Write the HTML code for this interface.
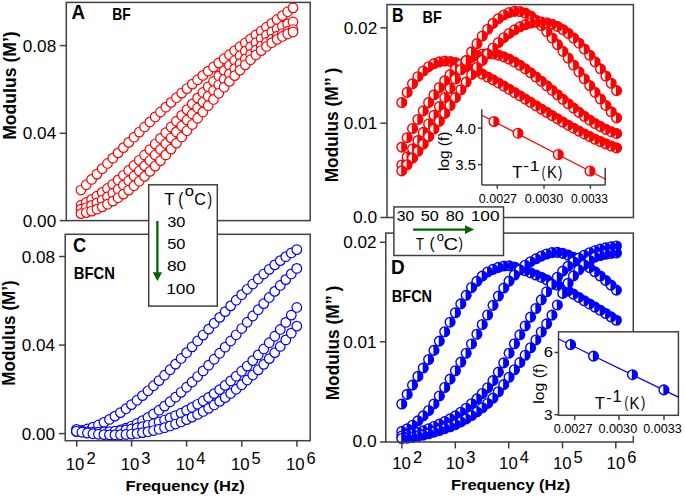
<!DOCTYPE html><html><head><meta charset="utf-8"><style>html,body{margin:0;padding:0;background:#fff;width:685px;height:498px;overflow:hidden}</style></head><body><svg width="685" height="498" viewBox="0 0 685 498" style="position:absolute;left:0;top:0;font-family:'Liberation Sans', sans-serif">
<rect width="685" height="498" fill="#fff"/>
<circle cx="81.00" cy="190.05" r="4.8" fill="#fff" stroke="#ff0000" stroke-width="1.2"/>
<circle cx="86.30" cy="184.74" r="4.8" fill="#fff" stroke="#ff0000" stroke-width="1.2"/>
<circle cx="91.60" cy="179.41" r="4.8" fill="#fff" stroke="#ff0000" stroke-width="1.2"/>
<circle cx="96.90" cy="174.09" r="4.8" fill="#fff" stroke="#ff0000" stroke-width="1.2"/>
<circle cx="102.20" cy="168.77" r="4.8" fill="#fff" stroke="#ff0000" stroke-width="1.2"/>
<circle cx="107.50" cy="163.46" r="4.8" fill="#fff" stroke="#ff0000" stroke-width="1.2"/>
<circle cx="112.80" cy="158.16" r="4.8" fill="#fff" stroke="#ff0000" stroke-width="1.2"/>
<circle cx="118.10" cy="152.88" r="4.8" fill="#fff" stroke="#ff0000" stroke-width="1.2"/>
<circle cx="123.40" cy="147.63" r="4.8" fill="#fff" stroke="#ff0000" stroke-width="1.2"/>
<circle cx="128.70" cy="142.40" r="4.8" fill="#fff" stroke="#ff0000" stroke-width="1.2"/>
<circle cx="134.00" cy="137.22" r="4.8" fill="#fff" stroke="#ff0000" stroke-width="1.2"/>
<circle cx="139.30" cy="132.07" r="4.8" fill="#fff" stroke="#ff0000" stroke-width="1.2"/>
<circle cx="144.60" cy="126.97" r="4.8" fill="#fff" stroke="#ff0000" stroke-width="1.2"/>
<circle cx="149.90" cy="121.93" r="4.8" fill="#fff" stroke="#ff0000" stroke-width="1.2"/>
<circle cx="155.20" cy="116.94" r="4.8" fill="#fff" stroke="#ff0000" stroke-width="1.2"/>
<circle cx="160.50" cy="112.02" r="4.8" fill="#fff" stroke="#ff0000" stroke-width="1.2"/>
<circle cx="165.80" cy="107.17" r="4.8" fill="#fff" stroke="#ff0000" stroke-width="1.2"/>
<circle cx="171.10" cy="102.39" r="4.8" fill="#fff" stroke="#ff0000" stroke-width="1.2"/>
<circle cx="176.40" cy="97.70" r="4.8" fill="#fff" stroke="#ff0000" stroke-width="1.2"/>
<circle cx="181.70" cy="93.09" r="4.8" fill="#fff" stroke="#ff0000" stroke-width="1.2"/>
<circle cx="187.00" cy="88.56" r="4.8" fill="#fff" stroke="#ff0000" stroke-width="1.2"/>
<circle cx="192.30" cy="84.11" r="4.8" fill="#fff" stroke="#ff0000" stroke-width="1.2"/>
<circle cx="197.60" cy="79.73" r="4.8" fill="#fff" stroke="#ff0000" stroke-width="1.2"/>
<circle cx="202.90" cy="75.42" r="4.8" fill="#fff" stroke="#ff0000" stroke-width="1.2"/>
<circle cx="208.20" cy="71.17" r="4.8" fill="#fff" stroke="#ff0000" stroke-width="1.2"/>
<circle cx="213.50" cy="66.98" r="4.8" fill="#fff" stroke="#ff0000" stroke-width="1.2"/>
<circle cx="218.80" cy="62.84" r="4.8" fill="#fff" stroke="#ff0000" stroke-width="1.2"/>
<circle cx="224.10" cy="58.75" r="4.8" fill="#fff" stroke="#ff0000" stroke-width="1.2"/>
<circle cx="229.40" cy="54.71" r="4.8" fill="#fff" stroke="#ff0000" stroke-width="1.2"/>
<circle cx="234.70" cy="50.70" r="4.8" fill="#fff" stroke="#ff0000" stroke-width="1.2"/>
<circle cx="240.00" cy="46.73" r="4.8" fill="#fff" stroke="#ff0000" stroke-width="1.2"/>
<circle cx="245.30" cy="42.79" r="4.8" fill="#fff" stroke="#ff0000" stroke-width="1.2"/>
<circle cx="250.60" cy="38.87" r="4.8" fill="#fff" stroke="#ff0000" stroke-width="1.2"/>
<circle cx="255.90" cy="34.97" r="4.8" fill="#fff" stroke="#ff0000" stroke-width="1.2"/>
<circle cx="261.20" cy="31.08" r="4.8" fill="#fff" stroke="#ff0000" stroke-width="1.2"/>
<circle cx="266.50" cy="27.21" r="4.8" fill="#fff" stroke="#ff0000" stroke-width="1.2"/>
<circle cx="271.80" cy="23.34" r="4.8" fill="#fff" stroke="#ff0000" stroke-width="1.2"/>
<circle cx="277.10" cy="19.48" r="4.8" fill="#fff" stroke="#ff0000" stroke-width="1.2"/>
<circle cx="282.40" cy="15.61" r="4.8" fill="#fff" stroke="#ff0000" stroke-width="1.2"/>
<circle cx="287.70" cy="11.73" r="4.8" fill="#fff" stroke="#ff0000" stroke-width="1.2"/>
<circle cx="293.00" cy="7.83" r="4.8" fill="#fff" stroke="#ff0000" stroke-width="1.2"/>
<circle cx="81.00" cy="205.24" r="4.8" fill="#fff" stroke="#ff0000" stroke-width="1.2"/>
<circle cx="86.30" cy="202.50" r="4.8" fill="#fff" stroke="#ff0000" stroke-width="1.2"/>
<circle cx="91.60" cy="199.44" r="4.8" fill="#fff" stroke="#ff0000" stroke-width="1.2"/>
<circle cx="96.90" cy="196.08" r="4.8" fill="#fff" stroke="#ff0000" stroke-width="1.2"/>
<circle cx="102.20" cy="192.42" r="4.8" fill="#fff" stroke="#ff0000" stroke-width="1.2"/>
<circle cx="107.50" cy="188.50" r="4.8" fill="#fff" stroke="#ff0000" stroke-width="1.2"/>
<circle cx="112.80" cy="184.33" r="4.8" fill="#fff" stroke="#ff0000" stroke-width="1.2"/>
<circle cx="118.10" cy="179.92" r="4.8" fill="#fff" stroke="#ff0000" stroke-width="1.2"/>
<circle cx="123.40" cy="175.30" r="4.8" fill="#fff" stroke="#ff0000" stroke-width="1.2"/>
<circle cx="128.70" cy="170.48" r="4.8" fill="#fff" stroke="#ff0000" stroke-width="1.2"/>
<circle cx="134.00" cy="165.48" r="4.8" fill="#fff" stroke="#ff0000" stroke-width="1.2"/>
<circle cx="139.30" cy="160.32" r="4.8" fill="#fff" stroke="#ff0000" stroke-width="1.2"/>
<circle cx="144.60" cy="155.02" r="4.8" fill="#fff" stroke="#ff0000" stroke-width="1.2"/>
<circle cx="149.90" cy="149.59" r="4.8" fill="#fff" stroke="#ff0000" stroke-width="1.2"/>
<circle cx="155.20" cy="144.06" r="4.8" fill="#fff" stroke="#ff0000" stroke-width="1.2"/>
<circle cx="160.50" cy="138.44" r="4.8" fill="#fff" stroke="#ff0000" stroke-width="1.2"/>
<circle cx="165.80" cy="132.75" r="4.8" fill="#fff" stroke="#ff0000" stroke-width="1.2"/>
<circle cx="171.10" cy="127.00" r="4.8" fill="#fff" stroke="#ff0000" stroke-width="1.2"/>
<circle cx="176.40" cy="121.22" r="4.8" fill="#fff" stroke="#ff0000" stroke-width="1.2"/>
<circle cx="181.70" cy="115.43" r="4.8" fill="#fff" stroke="#ff0000" stroke-width="1.2"/>
<circle cx="187.00" cy="109.64" r="4.8" fill="#fff" stroke="#ff0000" stroke-width="1.2"/>
<circle cx="192.30" cy="103.86" r="4.8" fill="#fff" stroke="#ff0000" stroke-width="1.2"/>
<circle cx="197.60" cy="98.13" r="4.8" fill="#fff" stroke="#ff0000" stroke-width="1.2"/>
<circle cx="202.90" cy="92.45" r="4.8" fill="#fff" stroke="#ff0000" stroke-width="1.2"/>
<circle cx="208.20" cy="86.84" r="4.8" fill="#fff" stroke="#ff0000" stroke-width="1.2"/>
<circle cx="213.50" cy="81.33" r="4.8" fill="#fff" stroke="#ff0000" stroke-width="1.2"/>
<circle cx="218.80" cy="75.92" r="4.8" fill="#fff" stroke="#ff0000" stroke-width="1.2"/>
<circle cx="224.10" cy="70.65" r="4.8" fill="#fff" stroke="#ff0000" stroke-width="1.2"/>
<circle cx="229.40" cy="65.52" r="4.8" fill="#fff" stroke="#ff0000" stroke-width="1.2"/>
<circle cx="234.70" cy="60.55" r="4.8" fill="#fff" stroke="#ff0000" stroke-width="1.2"/>
<circle cx="240.00" cy="55.77" r="4.8" fill="#fff" stroke="#ff0000" stroke-width="1.2"/>
<circle cx="245.30" cy="51.19" r="4.8" fill="#fff" stroke="#ff0000" stroke-width="1.2"/>
<circle cx="250.60" cy="46.83" r="4.8" fill="#fff" stroke="#ff0000" stroke-width="1.2"/>
<circle cx="255.90" cy="42.70" r="4.8" fill="#fff" stroke="#ff0000" stroke-width="1.2"/>
<circle cx="261.20" cy="38.83" r="4.8" fill="#fff" stroke="#ff0000" stroke-width="1.2"/>
<circle cx="266.50" cy="35.23" r="4.8" fill="#fff" stroke="#ff0000" stroke-width="1.2"/>
<circle cx="271.80" cy="31.92" r="4.8" fill="#fff" stroke="#ff0000" stroke-width="1.2"/>
<circle cx="277.10" cy="28.92" r="4.8" fill="#fff" stroke="#ff0000" stroke-width="1.2"/>
<circle cx="282.40" cy="26.25" r="4.8" fill="#fff" stroke="#ff0000" stroke-width="1.2"/>
<circle cx="287.70" cy="23.92" r="4.8" fill="#fff" stroke="#ff0000" stroke-width="1.2"/>
<circle cx="293.00" cy="21.96" r="4.8" fill="#fff" stroke="#ff0000" stroke-width="1.2"/>
<circle cx="81.00" cy="209.22" r="4.8" fill="#fff" stroke="#ff0000" stroke-width="1.2"/>
<circle cx="86.30" cy="207.56" r="4.8" fill="#fff" stroke="#ff0000" stroke-width="1.2"/>
<circle cx="91.60" cy="205.47" r="4.8" fill="#fff" stroke="#ff0000" stroke-width="1.2"/>
<circle cx="96.90" cy="202.97" r="4.8" fill="#fff" stroke="#ff0000" stroke-width="1.2"/>
<circle cx="102.20" cy="200.09" r="4.8" fill="#fff" stroke="#ff0000" stroke-width="1.2"/>
<circle cx="107.50" cy="196.85" r="4.8" fill="#fff" stroke="#ff0000" stroke-width="1.2"/>
<circle cx="112.80" cy="193.26" r="4.8" fill="#fff" stroke="#ff0000" stroke-width="1.2"/>
<circle cx="118.10" cy="189.36" r="4.8" fill="#fff" stroke="#ff0000" stroke-width="1.2"/>
<circle cx="123.40" cy="185.17" r="4.8" fill="#fff" stroke="#ff0000" stroke-width="1.2"/>
<circle cx="128.70" cy="180.70" r="4.8" fill="#fff" stroke="#ff0000" stroke-width="1.2"/>
<circle cx="134.00" cy="175.98" r="4.8" fill="#fff" stroke="#ff0000" stroke-width="1.2"/>
<circle cx="139.30" cy="171.03" r="4.8" fill="#fff" stroke="#ff0000" stroke-width="1.2"/>
<circle cx="144.60" cy="165.88" r="4.8" fill="#fff" stroke="#ff0000" stroke-width="1.2"/>
<circle cx="149.90" cy="160.55" r="4.8" fill="#fff" stroke="#ff0000" stroke-width="1.2"/>
<circle cx="155.20" cy="155.05" r="4.8" fill="#fff" stroke="#ff0000" stroke-width="1.2"/>
<circle cx="160.50" cy="149.42" r="4.8" fill="#fff" stroke="#ff0000" stroke-width="1.2"/>
<circle cx="165.80" cy="143.67" r="4.8" fill="#fff" stroke="#ff0000" stroke-width="1.2"/>
<circle cx="171.10" cy="137.83" r="4.8" fill="#fff" stroke="#ff0000" stroke-width="1.2"/>
<circle cx="176.40" cy="131.92" r="4.8" fill="#fff" stroke="#ff0000" stroke-width="1.2"/>
<circle cx="181.70" cy="125.96" r="4.8" fill="#fff" stroke="#ff0000" stroke-width="1.2"/>
<circle cx="187.00" cy="119.98" r="4.8" fill="#fff" stroke="#ff0000" stroke-width="1.2"/>
<circle cx="192.30" cy="113.99" r="4.8" fill="#fff" stroke="#ff0000" stroke-width="1.2"/>
<circle cx="197.60" cy="108.03" r="4.8" fill="#fff" stroke="#ff0000" stroke-width="1.2"/>
<circle cx="202.90" cy="102.10" r="4.8" fill="#fff" stroke="#ff0000" stroke-width="1.2"/>
<circle cx="208.20" cy="96.24" r="4.8" fill="#fff" stroke="#ff0000" stroke-width="1.2"/>
<circle cx="213.50" cy="90.47" r="4.8" fill="#fff" stroke="#ff0000" stroke-width="1.2"/>
<circle cx="218.80" cy="84.80" r="4.8" fill="#fff" stroke="#ff0000" stroke-width="1.2"/>
<circle cx="224.10" cy="79.27" r="4.8" fill="#fff" stroke="#ff0000" stroke-width="1.2"/>
<circle cx="229.40" cy="73.89" r="4.8" fill="#fff" stroke="#ff0000" stroke-width="1.2"/>
<circle cx="234.70" cy="68.69" r="4.8" fill="#fff" stroke="#ff0000" stroke-width="1.2"/>
<circle cx="240.00" cy="63.69" r="4.8" fill="#fff" stroke="#ff0000" stroke-width="1.2"/>
<circle cx="245.30" cy="58.91" r="4.8" fill="#fff" stroke="#ff0000" stroke-width="1.2"/>
<circle cx="250.60" cy="54.37" r="4.8" fill="#fff" stroke="#ff0000" stroke-width="1.2"/>
<circle cx="255.90" cy="50.10" r="4.8" fill="#fff" stroke="#ff0000" stroke-width="1.2"/>
<circle cx="261.20" cy="46.12" r="4.8" fill="#fff" stroke="#ff0000" stroke-width="1.2"/>
<circle cx="266.50" cy="42.46" r="4.8" fill="#fff" stroke="#ff0000" stroke-width="1.2"/>
<circle cx="271.80" cy="39.12" r="4.8" fill="#fff" stroke="#ff0000" stroke-width="1.2"/>
<circle cx="277.10" cy="36.14" r="4.8" fill="#fff" stroke="#ff0000" stroke-width="1.2"/>
<circle cx="282.40" cy="33.54" r="4.8" fill="#fff" stroke="#ff0000" stroke-width="1.2"/>
<circle cx="287.70" cy="31.35" r="4.8" fill="#fff" stroke="#ff0000" stroke-width="1.2"/>
<circle cx="293.00" cy="29.57" r="4.8" fill="#fff" stroke="#ff0000" stroke-width="1.2"/>
<circle cx="81.00" cy="213.63" r="4.8" fill="#fff" stroke="#ff0000" stroke-width="1.2"/>
<circle cx="86.30" cy="212.56" r="4.8" fill="#fff" stroke="#ff0000" stroke-width="1.2"/>
<circle cx="91.60" cy="211.07" r="4.8" fill="#fff" stroke="#ff0000" stroke-width="1.2"/>
<circle cx="96.90" cy="209.16" r="4.8" fill="#fff" stroke="#ff0000" stroke-width="1.2"/>
<circle cx="102.20" cy="206.86" r="4.8" fill="#fff" stroke="#ff0000" stroke-width="1.2"/>
<circle cx="107.50" cy="204.19" r="4.8" fill="#fff" stroke="#ff0000" stroke-width="1.2"/>
<circle cx="112.80" cy="201.15" r="4.8" fill="#fff" stroke="#ff0000" stroke-width="1.2"/>
<circle cx="118.10" cy="197.78" r="4.8" fill="#fff" stroke="#ff0000" stroke-width="1.2"/>
<circle cx="123.40" cy="194.08" r="4.8" fill="#fff" stroke="#ff0000" stroke-width="1.2"/>
<circle cx="128.70" cy="190.08" r="4.8" fill="#fff" stroke="#ff0000" stroke-width="1.2"/>
<circle cx="134.00" cy="185.79" r="4.8" fill="#fff" stroke="#ff0000" stroke-width="1.2"/>
<circle cx="139.30" cy="181.22" r="4.8" fill="#fff" stroke="#ff0000" stroke-width="1.2"/>
<circle cx="144.60" cy="176.40" r="4.8" fill="#fff" stroke="#ff0000" stroke-width="1.2"/>
<circle cx="149.90" cy="171.35" r="4.8" fill="#fff" stroke="#ff0000" stroke-width="1.2"/>
<circle cx="155.20" cy="166.07" r="4.8" fill="#fff" stroke="#ff0000" stroke-width="1.2"/>
<circle cx="160.50" cy="160.59" r="4.8" fill="#fff" stroke="#ff0000" stroke-width="1.2"/>
<circle cx="165.80" cy="154.92" r="4.8" fill="#fff" stroke="#ff0000" stroke-width="1.2"/>
<circle cx="171.10" cy="149.08" r="4.8" fill="#fff" stroke="#ff0000" stroke-width="1.2"/>
<circle cx="176.40" cy="143.10" r="4.8" fill="#fff" stroke="#ff0000" stroke-width="1.2"/>
<circle cx="181.70" cy="136.99" r="4.8" fill="#fff" stroke="#ff0000" stroke-width="1.2"/>
<circle cx="187.00" cy="130.79" r="4.8" fill="#fff" stroke="#ff0000" stroke-width="1.2"/>
<circle cx="192.30" cy="124.53" r="4.8" fill="#fff" stroke="#ff0000" stroke-width="1.2"/>
<circle cx="197.60" cy="118.24" r="4.8" fill="#fff" stroke="#ff0000" stroke-width="1.2"/>
<circle cx="202.90" cy="111.94" r="4.8" fill="#fff" stroke="#ff0000" stroke-width="1.2"/>
<circle cx="208.20" cy="105.66" r="4.8" fill="#fff" stroke="#ff0000" stroke-width="1.2"/>
<circle cx="213.50" cy="99.44" r="4.8" fill="#fff" stroke="#ff0000" stroke-width="1.2"/>
<circle cx="218.80" cy="93.30" r="4.8" fill="#fff" stroke="#ff0000" stroke-width="1.2"/>
<circle cx="224.10" cy="87.27" r="4.8" fill="#fff" stroke="#ff0000" stroke-width="1.2"/>
<circle cx="229.40" cy="81.38" r="4.8" fill="#fff" stroke="#ff0000" stroke-width="1.2"/>
<circle cx="234.70" cy="75.65" r="4.8" fill="#fff" stroke="#ff0000" stroke-width="1.2"/>
<circle cx="240.00" cy="70.12" r="4.8" fill="#fff" stroke="#ff0000" stroke-width="1.2"/>
<circle cx="245.30" cy="64.82" r="4.8" fill="#fff" stroke="#ff0000" stroke-width="1.2"/>
<circle cx="250.60" cy="59.77" r="4.8" fill="#fff" stroke="#ff0000" stroke-width="1.2"/>
<circle cx="255.90" cy="55.01" r="4.8" fill="#fff" stroke="#ff0000" stroke-width="1.2"/>
<circle cx="261.20" cy="50.56" r="4.8" fill="#fff" stroke="#ff0000" stroke-width="1.2"/>
<circle cx="266.50" cy="46.45" r="4.8" fill="#fff" stroke="#ff0000" stroke-width="1.2"/>
<circle cx="271.80" cy="42.70" r="4.8" fill="#fff" stroke="#ff0000" stroke-width="1.2"/>
<circle cx="277.10" cy="39.36" r="4.8" fill="#fff" stroke="#ff0000" stroke-width="1.2"/>
<circle cx="282.40" cy="36.45" r="4.8" fill="#fff" stroke="#ff0000" stroke-width="1.2"/>
<circle cx="287.70" cy="33.99" r="4.8" fill="#fff" stroke="#ff0000" stroke-width="1.2"/>
<circle cx="293.00" cy="32.01" r="4.8" fill="#fff" stroke="#ff0000" stroke-width="1.2"/>
<circle cx="76.40" cy="431.49" r="4.8" fill="#fff" stroke="#0000ff" stroke-width="1.2"/>
<circle cx="81.91" cy="430.47" r="4.8" fill="#fff" stroke="#0000ff" stroke-width="1.2"/>
<circle cx="87.42" cy="429.02" r="4.8" fill="#fff" stroke="#0000ff" stroke-width="1.2"/>
<circle cx="92.93" cy="427.18" r="4.8" fill="#fff" stroke="#0000ff" stroke-width="1.2"/>
<circle cx="98.44" cy="424.95" r="4.8" fill="#fff" stroke="#0000ff" stroke-width="1.2"/>
<circle cx="103.95" cy="422.35" r="4.8" fill="#fff" stroke="#0000ff" stroke-width="1.2"/>
<circle cx="109.46" cy="419.42" r="4.8" fill="#fff" stroke="#0000ff" stroke-width="1.2"/>
<circle cx="114.97" cy="416.15" r="4.8" fill="#fff" stroke="#0000ff" stroke-width="1.2"/>
<circle cx="120.48" cy="412.58" r="4.8" fill="#fff" stroke="#0000ff" stroke-width="1.2"/>
<circle cx="125.99" cy="408.72" r="4.8" fill="#fff" stroke="#0000ff" stroke-width="1.2"/>
<circle cx="131.50" cy="404.59" r="4.8" fill="#fff" stroke="#0000ff" stroke-width="1.2"/>
<circle cx="137.01" cy="400.22" r="4.8" fill="#fff" stroke="#0000ff" stroke-width="1.2"/>
<circle cx="142.52" cy="395.61" r="4.8" fill="#fff" stroke="#0000ff" stroke-width="1.2"/>
<circle cx="148.03" cy="390.78" r="4.8" fill="#fff" stroke="#0000ff" stroke-width="1.2"/>
<circle cx="153.54" cy="385.77" r="4.8" fill="#fff" stroke="#0000ff" stroke-width="1.2"/>
<circle cx="159.05" cy="380.58" r="4.8" fill="#fff" stroke="#0000ff" stroke-width="1.2"/>
<circle cx="164.56" cy="375.23" r="4.8" fill="#fff" stroke="#0000ff" stroke-width="1.2"/>
<circle cx="170.07" cy="369.75" r="4.8" fill="#fff" stroke="#0000ff" stroke-width="1.2"/>
<circle cx="175.58" cy="364.15" r="4.8" fill="#fff" stroke="#0000ff" stroke-width="1.2"/>
<circle cx="181.09" cy="358.46" r="4.8" fill="#fff" stroke="#0000ff" stroke-width="1.2"/>
<circle cx="186.60" cy="352.68" r="4.8" fill="#fff" stroke="#0000ff" stroke-width="1.2"/>
<circle cx="192.11" cy="346.84" r="4.8" fill="#fff" stroke="#0000ff" stroke-width="1.2"/>
<circle cx="197.62" cy="340.96" r="4.8" fill="#fff" stroke="#0000ff" stroke-width="1.2"/>
<circle cx="203.13" cy="335.06" r="4.8" fill="#fff" stroke="#0000ff" stroke-width="1.2"/>
<circle cx="208.64" cy="329.15" r="4.8" fill="#fff" stroke="#0000ff" stroke-width="1.2"/>
<circle cx="214.15" cy="323.26" r="4.8" fill="#fff" stroke="#0000ff" stroke-width="1.2"/>
<circle cx="219.66" cy="317.40" r="4.8" fill="#fff" stroke="#0000ff" stroke-width="1.2"/>
<circle cx="225.17" cy="311.60" r="4.8" fill="#fff" stroke="#0000ff" stroke-width="1.2"/>
<circle cx="230.68" cy="305.86" r="4.8" fill="#fff" stroke="#0000ff" stroke-width="1.2"/>
<circle cx="236.19" cy="300.22" r="4.8" fill="#fff" stroke="#0000ff" stroke-width="1.2"/>
<circle cx="241.70" cy="294.69" r="4.8" fill="#fff" stroke="#0000ff" stroke-width="1.2"/>
<circle cx="247.21" cy="289.29" r="4.8" fill="#fff" stroke="#0000ff" stroke-width="1.2"/>
<circle cx="252.72" cy="284.03" r="4.8" fill="#fff" stroke="#0000ff" stroke-width="1.2"/>
<circle cx="258.23" cy="278.94" r="4.8" fill="#fff" stroke="#0000ff" stroke-width="1.2"/>
<circle cx="263.74" cy="274.04" r="4.8" fill="#fff" stroke="#0000ff" stroke-width="1.2"/>
<circle cx="269.25" cy="269.34" r="4.8" fill="#fff" stroke="#0000ff" stroke-width="1.2"/>
<circle cx="274.76" cy="264.86" r="4.8" fill="#fff" stroke="#0000ff" stroke-width="1.2"/>
<circle cx="280.27" cy="260.63" r="4.8" fill="#fff" stroke="#0000ff" stroke-width="1.2"/>
<circle cx="285.78" cy="256.66" r="4.8" fill="#fff" stroke="#0000ff" stroke-width="1.2"/>
<circle cx="291.29" cy="252.97" r="4.8" fill="#fff" stroke="#0000ff" stroke-width="1.2"/>
<circle cx="296.80" cy="249.58" r="4.8" fill="#fff" stroke="#0000ff" stroke-width="1.2"/>
<circle cx="76.40" cy="429.40" r="4.8" fill="#fff" stroke="#0000ff" stroke-width="1.2"/>
<circle cx="81.91" cy="431.05" r="4.8" fill="#fff" stroke="#0000ff" stroke-width="1.2"/>
<circle cx="87.42" cy="432.22" r="4.8" fill="#fff" stroke="#0000ff" stroke-width="1.2"/>
<circle cx="92.93" cy="432.92" r="4.8" fill="#fff" stroke="#0000ff" stroke-width="1.2"/>
<circle cx="98.44" cy="433.18" r="4.8" fill="#fff" stroke="#0000ff" stroke-width="1.2"/>
<circle cx="103.95" cy="433.00" r="4.8" fill="#fff" stroke="#0000ff" stroke-width="1.2"/>
<circle cx="109.46" cy="432.40" r="4.8" fill="#fff" stroke="#0000ff" stroke-width="1.2"/>
<circle cx="114.97" cy="431.39" r="4.8" fill="#fff" stroke="#0000ff" stroke-width="1.2"/>
<circle cx="120.48" cy="429.98" r="4.8" fill="#fff" stroke="#0000ff" stroke-width="1.2"/>
<circle cx="125.99" cy="428.19" r="4.8" fill="#fff" stroke="#0000ff" stroke-width="1.2"/>
<circle cx="131.50" cy="426.03" r="4.8" fill="#fff" stroke="#0000ff" stroke-width="1.2"/>
<circle cx="137.01" cy="423.52" r="4.8" fill="#fff" stroke="#0000ff" stroke-width="1.2"/>
<circle cx="142.52" cy="420.67" r="4.8" fill="#fff" stroke="#0000ff" stroke-width="1.2"/>
<circle cx="148.03" cy="417.49" r="4.8" fill="#fff" stroke="#0000ff" stroke-width="1.2"/>
<circle cx="153.54" cy="414.00" r="4.8" fill="#fff" stroke="#0000ff" stroke-width="1.2"/>
<circle cx="159.05" cy="410.20" r="4.8" fill="#fff" stroke="#0000ff" stroke-width="1.2"/>
<circle cx="164.56" cy="406.12" r="4.8" fill="#fff" stroke="#0000ff" stroke-width="1.2"/>
<circle cx="170.07" cy="401.77" r="4.8" fill="#fff" stroke="#0000ff" stroke-width="1.2"/>
<circle cx="175.58" cy="397.16" r="4.8" fill="#fff" stroke="#0000ff" stroke-width="1.2"/>
<circle cx="181.09" cy="392.32" r="4.8" fill="#fff" stroke="#0000ff" stroke-width="1.2"/>
<circle cx="186.60" cy="387.26" r="4.8" fill="#fff" stroke="#0000ff" stroke-width="1.2"/>
<circle cx="192.11" cy="381.99" r="4.8" fill="#fff" stroke="#0000ff" stroke-width="1.2"/>
<circle cx="197.62" cy="376.54" r="4.8" fill="#fff" stroke="#0000ff" stroke-width="1.2"/>
<circle cx="203.13" cy="370.92" r="4.8" fill="#fff" stroke="#0000ff" stroke-width="1.2"/>
<circle cx="208.64" cy="365.16" r="4.8" fill="#fff" stroke="#0000ff" stroke-width="1.2"/>
<circle cx="214.15" cy="359.27" r="4.8" fill="#fff" stroke="#0000ff" stroke-width="1.2"/>
<circle cx="219.66" cy="353.26" r="4.8" fill="#fff" stroke="#0000ff" stroke-width="1.2"/>
<circle cx="225.17" cy="347.17" r="4.8" fill="#fff" stroke="#0000ff" stroke-width="1.2"/>
<circle cx="230.68" cy="341.00" r="4.8" fill="#fff" stroke="#0000ff" stroke-width="1.2"/>
<circle cx="236.19" cy="334.78" r="4.8" fill="#fff" stroke="#0000ff" stroke-width="1.2"/>
<circle cx="241.70" cy="328.53" r="4.8" fill="#fff" stroke="#0000ff" stroke-width="1.2"/>
<circle cx="247.21" cy="322.27" r="4.8" fill="#fff" stroke="#0000ff" stroke-width="1.2"/>
<circle cx="252.72" cy="316.01" r="4.8" fill="#fff" stroke="#0000ff" stroke-width="1.2"/>
<circle cx="258.23" cy="309.77" r="4.8" fill="#fff" stroke="#0000ff" stroke-width="1.2"/>
<circle cx="263.74" cy="303.58" r="4.8" fill="#fff" stroke="#0000ff" stroke-width="1.2"/>
<circle cx="269.25" cy="297.45" r="4.8" fill="#fff" stroke="#0000ff" stroke-width="1.2"/>
<circle cx="274.76" cy="291.40" r="4.8" fill="#fff" stroke="#0000ff" stroke-width="1.2"/>
<circle cx="280.27" cy="285.45" r="4.8" fill="#fff" stroke="#0000ff" stroke-width="1.2"/>
<circle cx="285.78" cy="279.62" r="4.8" fill="#fff" stroke="#0000ff" stroke-width="1.2"/>
<circle cx="291.29" cy="273.94" r="4.8" fill="#fff" stroke="#0000ff" stroke-width="1.2"/>
<circle cx="296.80" cy="268.41" r="4.8" fill="#fff" stroke="#0000ff" stroke-width="1.2"/>
<circle cx="76.40" cy="431.36" r="4.8" fill="#fff" stroke="#0000ff" stroke-width="1.2"/>
<circle cx="81.91" cy="431.73" r="4.8" fill="#fff" stroke="#0000ff" stroke-width="1.2"/>
<circle cx="87.42" cy="431.98" r="4.8" fill="#fff" stroke="#0000ff" stroke-width="1.2"/>
<circle cx="92.93" cy="432.10" r="4.8" fill="#fff" stroke="#0000ff" stroke-width="1.2"/>
<circle cx="98.44" cy="432.09" r="4.8" fill="#fff" stroke="#0000ff" stroke-width="1.2"/>
<circle cx="103.95" cy="431.94" r="4.8" fill="#fff" stroke="#0000ff" stroke-width="1.2"/>
<circle cx="109.46" cy="431.64" r="4.8" fill="#fff" stroke="#0000ff" stroke-width="1.2"/>
<circle cx="114.97" cy="431.21" r="4.8" fill="#fff" stroke="#0000ff" stroke-width="1.2"/>
<circle cx="120.48" cy="430.62" r="4.8" fill="#fff" stroke="#0000ff" stroke-width="1.2"/>
<circle cx="125.99" cy="429.88" r="4.8" fill="#fff" stroke="#0000ff" stroke-width="1.2"/>
<circle cx="131.50" cy="428.98" r="4.8" fill="#fff" stroke="#0000ff" stroke-width="1.2"/>
<circle cx="137.01" cy="427.92" r="4.8" fill="#fff" stroke="#0000ff" stroke-width="1.2"/>
<circle cx="142.52" cy="426.69" r="4.8" fill="#fff" stroke="#0000ff" stroke-width="1.2"/>
<circle cx="148.03" cy="425.29" r="4.8" fill="#fff" stroke="#0000ff" stroke-width="1.2"/>
<circle cx="153.54" cy="423.72" r="4.8" fill="#fff" stroke="#0000ff" stroke-width="1.2"/>
<circle cx="159.05" cy="421.97" r="4.8" fill="#fff" stroke="#0000ff" stroke-width="1.2"/>
<circle cx="164.56" cy="420.03" r="4.8" fill="#fff" stroke="#0000ff" stroke-width="1.2"/>
<circle cx="170.07" cy="417.90" r="4.8" fill="#fff" stroke="#0000ff" stroke-width="1.2"/>
<circle cx="175.58" cy="415.59" r="4.8" fill="#fff" stroke="#0000ff" stroke-width="1.2"/>
<circle cx="181.09" cy="413.08" r="4.8" fill="#fff" stroke="#0000ff" stroke-width="1.2"/>
<circle cx="186.60" cy="410.36" r="4.8" fill="#fff" stroke="#0000ff" stroke-width="1.2"/>
<circle cx="192.11" cy="407.44" r="4.8" fill="#fff" stroke="#0000ff" stroke-width="1.2"/>
<circle cx="197.62" cy="404.32" r="4.8" fill="#fff" stroke="#0000ff" stroke-width="1.2"/>
<circle cx="203.13" cy="400.98" r="4.8" fill="#fff" stroke="#0000ff" stroke-width="1.2"/>
<circle cx="208.64" cy="397.42" r="4.8" fill="#fff" stroke="#0000ff" stroke-width="1.2"/>
<circle cx="214.15" cy="393.64" r="4.8" fill="#fff" stroke="#0000ff" stroke-width="1.2"/>
<circle cx="219.66" cy="389.64" r="4.8" fill="#fff" stroke="#0000ff" stroke-width="1.2"/>
<circle cx="225.17" cy="385.40" r="4.8" fill="#fff" stroke="#0000ff" stroke-width="1.2"/>
<circle cx="230.68" cy="380.93" r="4.8" fill="#fff" stroke="#0000ff" stroke-width="1.2"/>
<circle cx="236.19" cy="376.22" r="4.8" fill="#fff" stroke="#0000ff" stroke-width="1.2"/>
<circle cx="241.70" cy="371.27" r="4.8" fill="#fff" stroke="#0000ff" stroke-width="1.2"/>
<circle cx="247.21" cy="366.07" r="4.8" fill="#fff" stroke="#0000ff" stroke-width="1.2"/>
<circle cx="252.72" cy="360.62" r="4.8" fill="#fff" stroke="#0000ff" stroke-width="1.2"/>
<circle cx="258.23" cy="354.92" r="4.8" fill="#fff" stroke="#0000ff" stroke-width="1.2"/>
<circle cx="263.74" cy="348.95" r="4.8" fill="#fff" stroke="#0000ff" stroke-width="1.2"/>
<circle cx="269.25" cy="342.72" r="4.8" fill="#fff" stroke="#0000ff" stroke-width="1.2"/>
<circle cx="274.76" cy="336.23" r="4.8" fill="#fff" stroke="#0000ff" stroke-width="1.2"/>
<circle cx="280.27" cy="329.46" r="4.8" fill="#fff" stroke="#0000ff" stroke-width="1.2"/>
<circle cx="285.78" cy="322.41" r="4.8" fill="#fff" stroke="#0000ff" stroke-width="1.2"/>
<circle cx="291.29" cy="315.08" r="4.8" fill="#fff" stroke="#0000ff" stroke-width="1.2"/>
<circle cx="296.80" cy="307.47" r="4.8" fill="#fff" stroke="#0000ff" stroke-width="1.2"/>
<circle cx="76.40" cy="431.30" r="4.8" fill="#fff" stroke="#0000ff" stroke-width="1.2"/>
<circle cx="81.91" cy="432.26" r="4.8" fill="#fff" stroke="#0000ff" stroke-width="1.2"/>
<circle cx="87.42" cy="433.07" r="4.8" fill="#fff" stroke="#0000ff" stroke-width="1.2"/>
<circle cx="92.93" cy="433.74" r="4.8" fill="#fff" stroke="#0000ff" stroke-width="1.2"/>
<circle cx="98.44" cy="434.25" r="4.8" fill="#fff" stroke="#0000ff" stroke-width="1.2"/>
<circle cx="103.95" cy="434.62" r="4.8" fill="#fff" stroke="#0000ff" stroke-width="1.2"/>
<circle cx="109.46" cy="434.83" r="4.8" fill="#fff" stroke="#0000ff" stroke-width="1.2"/>
<circle cx="114.97" cy="434.88" r="4.8" fill="#fff" stroke="#0000ff" stroke-width="1.2"/>
<circle cx="120.48" cy="434.77" r="4.8" fill="#fff" stroke="#0000ff" stroke-width="1.2"/>
<circle cx="125.99" cy="434.50" r="4.8" fill="#fff" stroke="#0000ff" stroke-width="1.2"/>
<circle cx="131.50" cy="434.06" r="4.8" fill="#fff" stroke="#0000ff" stroke-width="1.2"/>
<circle cx="137.01" cy="433.44" r="4.8" fill="#fff" stroke="#0000ff" stroke-width="1.2"/>
<circle cx="142.52" cy="432.65" r="4.8" fill="#fff" stroke="#0000ff" stroke-width="1.2"/>
<circle cx="148.03" cy="431.68" r="4.8" fill="#fff" stroke="#0000ff" stroke-width="1.2"/>
<circle cx="153.54" cy="430.53" r="4.8" fill="#fff" stroke="#0000ff" stroke-width="1.2"/>
<circle cx="159.05" cy="429.20" r="4.8" fill="#fff" stroke="#0000ff" stroke-width="1.2"/>
<circle cx="164.56" cy="427.68" r="4.8" fill="#fff" stroke="#0000ff" stroke-width="1.2"/>
<circle cx="170.07" cy="425.96" r="4.8" fill="#fff" stroke="#0000ff" stroke-width="1.2"/>
<circle cx="175.58" cy="424.05" r="4.8" fill="#fff" stroke="#0000ff" stroke-width="1.2"/>
<circle cx="181.09" cy="421.95" r="4.8" fill="#fff" stroke="#0000ff" stroke-width="1.2"/>
<circle cx="186.60" cy="419.64" r="4.8" fill="#fff" stroke="#0000ff" stroke-width="1.2"/>
<circle cx="192.11" cy="417.13" r="4.8" fill="#fff" stroke="#0000ff" stroke-width="1.2"/>
<circle cx="197.62" cy="414.41" r="4.8" fill="#fff" stroke="#0000ff" stroke-width="1.2"/>
<circle cx="203.13" cy="411.47" r="4.8" fill="#fff" stroke="#0000ff" stroke-width="1.2"/>
<circle cx="208.64" cy="408.33" r="4.8" fill="#fff" stroke="#0000ff" stroke-width="1.2"/>
<circle cx="214.15" cy="404.96" r="4.8" fill="#fff" stroke="#0000ff" stroke-width="1.2"/>
<circle cx="219.66" cy="401.38" r="4.8" fill="#fff" stroke="#0000ff" stroke-width="1.2"/>
<circle cx="225.17" cy="397.57" r="4.8" fill="#fff" stroke="#0000ff" stroke-width="1.2"/>
<circle cx="230.68" cy="393.53" r="4.8" fill="#fff" stroke="#0000ff" stroke-width="1.2"/>
<circle cx="236.19" cy="389.27" r="4.8" fill="#fff" stroke="#0000ff" stroke-width="1.2"/>
<circle cx="241.70" cy="384.76" r="4.8" fill="#fff" stroke="#0000ff" stroke-width="1.2"/>
<circle cx="247.21" cy="380.02" r="4.8" fill="#fff" stroke="#0000ff" stroke-width="1.2"/>
<circle cx="252.72" cy="375.04" r="4.8" fill="#fff" stroke="#0000ff" stroke-width="1.2"/>
<circle cx="258.23" cy="369.82" r="4.8" fill="#fff" stroke="#0000ff" stroke-width="1.2"/>
<circle cx="263.74" cy="364.35" r="4.8" fill="#fff" stroke="#0000ff" stroke-width="1.2"/>
<circle cx="269.25" cy="358.62" r="4.8" fill="#fff" stroke="#0000ff" stroke-width="1.2"/>
<circle cx="274.76" cy="352.65" r="4.8" fill="#fff" stroke="#0000ff" stroke-width="1.2"/>
<circle cx="280.27" cy="346.41" r="4.8" fill="#fff" stroke="#0000ff" stroke-width="1.2"/>
<circle cx="285.78" cy="339.92" r="4.8" fill="#fff" stroke="#0000ff" stroke-width="1.2"/>
<circle cx="291.29" cy="333.16" r="4.8" fill="#fff" stroke="#0000ff" stroke-width="1.2"/>
<circle cx="296.80" cy="326.14" r="4.8" fill="#fff" stroke="#0000ff" stroke-width="1.2"/>
<circle cx="616.60" cy="147.90" r="4.85" fill="#fff" stroke="#ff0000" stroke-width="1.4"/><path d="M616.00 143.09A4.85 4.85 0 1 1 616.00 152.72Z" fill="#ff0000"/>
<circle cx="611.23" cy="145.99" r="4.85" fill="#fff" stroke="#ff0000" stroke-width="1.4"/><path d="M610.63 141.18A4.85 4.85 0 1 1 610.63 150.81Z" fill="#ff0000"/>
<circle cx="605.86" cy="143.90" r="4.85" fill="#fff" stroke="#ff0000" stroke-width="1.4"/><path d="M605.26 139.09A4.85 4.85 0 1 1 605.26 148.71Z" fill="#ff0000"/>
<circle cx="600.49" cy="141.64" r="4.85" fill="#fff" stroke="#ff0000" stroke-width="1.4"/><path d="M599.89 136.83A4.85 4.85 0 1 1 599.89 146.45Z" fill="#ff0000"/>
<circle cx="595.12" cy="139.22" r="4.85" fill="#fff" stroke="#ff0000" stroke-width="1.4"/><path d="M594.52 134.40A4.85 4.85 0 1 1 594.52 144.03Z" fill="#ff0000"/>
<circle cx="589.75" cy="136.65" r="4.85" fill="#fff" stroke="#ff0000" stroke-width="1.4"/><path d="M589.15 131.84A4.85 4.85 0 1 1 589.15 141.46Z" fill="#ff0000"/>
<circle cx="584.38" cy="133.95" r="4.85" fill="#fff" stroke="#ff0000" stroke-width="1.4"/><path d="M583.78 129.14A4.85 4.85 0 1 1 583.78 138.76Z" fill="#ff0000"/>
<circle cx="579.01" cy="131.13" r="4.85" fill="#fff" stroke="#ff0000" stroke-width="1.4"/><path d="M578.41 126.32A4.85 4.85 0 1 1 578.41 135.94Z" fill="#ff0000"/>
<circle cx="573.64" cy="128.20" r="4.85" fill="#fff" stroke="#ff0000" stroke-width="1.4"/><path d="M573.04 123.39A4.85 4.85 0 1 1 573.04 133.02Z" fill="#ff0000"/>
<circle cx="568.27" cy="125.18" r="4.85" fill="#fff" stroke="#ff0000" stroke-width="1.4"/><path d="M567.67 120.37A4.85 4.85 0 1 1 567.67 130.00Z" fill="#ff0000"/>
<circle cx="562.90" cy="122.08" r="4.85" fill="#fff" stroke="#ff0000" stroke-width="1.4"/><path d="M562.30 117.27A4.85 4.85 0 1 1 562.30 126.89Z" fill="#ff0000"/>
<circle cx="557.53" cy="118.90" r="4.85" fill="#fff" stroke="#ff0000" stroke-width="1.4"/><path d="M556.93 114.09A4.85 4.85 0 1 1 556.93 123.72Z" fill="#ff0000"/>
<circle cx="552.16" cy="115.67" r="4.85" fill="#fff" stroke="#ff0000" stroke-width="1.4"/><path d="M551.56 110.86A4.85 4.85 0 1 1 551.56 120.48Z" fill="#ff0000"/>
<circle cx="546.79" cy="112.39" r="4.85" fill="#fff" stroke="#ff0000" stroke-width="1.4"/><path d="M546.19 107.58A4.85 4.85 0 1 1 546.19 117.21Z" fill="#ff0000"/>
<circle cx="541.42" cy="109.08" r="4.85" fill="#fff" stroke="#ff0000" stroke-width="1.4"/><path d="M540.82 104.27A4.85 4.85 0 1 1 540.82 113.90Z" fill="#ff0000"/>
<circle cx="536.05" cy="105.76" r="4.85" fill="#fff" stroke="#ff0000" stroke-width="1.4"/><path d="M535.45 100.94A4.85 4.85 0 1 1 535.45 110.57Z" fill="#ff0000"/>
<circle cx="530.68" cy="102.42" r="4.85" fill="#fff" stroke="#ff0000" stroke-width="1.4"/><path d="M530.08 97.61A4.85 4.85 0 1 1 530.08 107.23Z" fill="#ff0000"/>
<circle cx="525.31" cy="99.09" r="4.85" fill="#fff" stroke="#ff0000" stroke-width="1.4"/><path d="M524.71 94.28A4.85 4.85 0 1 1 524.71 103.90Z" fill="#ff0000"/>
<circle cx="519.94" cy="95.77" r="4.85" fill="#fff" stroke="#ff0000" stroke-width="1.4"/><path d="M519.34 90.96A4.85 4.85 0 1 1 519.34 100.59Z" fill="#ff0000"/>
<circle cx="514.57" cy="92.49" r="4.85" fill="#fff" stroke="#ff0000" stroke-width="1.4"/><path d="M513.97 87.68A4.85 4.85 0 1 1 513.97 97.30Z" fill="#ff0000"/>
<circle cx="509.20" cy="89.25" r="4.85" fill="#fff" stroke="#ff0000" stroke-width="1.4"/><path d="M508.60 84.44A4.85 4.85 0 1 1 508.60 94.06Z" fill="#ff0000"/>
<circle cx="503.83" cy="86.07" r="4.85" fill="#fff" stroke="#ff0000" stroke-width="1.4"/><path d="M503.23 81.25A4.85 4.85 0 1 1 503.23 90.88Z" fill="#ff0000"/>
<circle cx="498.46" cy="82.95" r="4.85" fill="#fff" stroke="#ff0000" stroke-width="1.4"/><path d="M497.86 78.14A4.85 4.85 0 1 1 497.86 87.76Z" fill="#ff0000"/>
<circle cx="493.09" cy="79.92" r="4.85" fill="#fff" stroke="#ff0000" stroke-width="1.4"/><path d="M492.49 75.10A4.85 4.85 0 1 1 492.49 84.73Z" fill="#ff0000"/>
<circle cx="487.72" cy="76.97" r="4.85" fill="#fff" stroke="#ff0000" stroke-width="1.4"/><path d="M487.12 72.16A4.85 4.85 0 1 1 487.12 81.79Z" fill="#ff0000"/>
<circle cx="482.35" cy="74.14" r="4.85" fill="#fff" stroke="#ff0000" stroke-width="1.4"/><path d="M481.75 69.32A4.85 4.85 0 1 1 481.75 78.95Z" fill="#ff0000"/>
<circle cx="476.98" cy="71.42" r="4.85" fill="#fff" stroke="#ff0000" stroke-width="1.4"/><path d="M476.38 66.60A4.85 4.85 0 1 1 476.38 76.23Z" fill="#ff0000"/>
<circle cx="471.61" cy="68.83" r="4.85" fill="#fff" stroke="#ff0000" stroke-width="1.4"/><path d="M471.01 64.02A4.85 4.85 0 1 1 471.01 73.64Z" fill="#ff0000"/>
<circle cx="466.24" cy="66.39" r="4.85" fill="#fff" stroke="#ff0000" stroke-width="1.4"/><path d="M465.64 61.58A4.85 4.85 0 1 1 465.64 71.21Z" fill="#ff0000"/>
<circle cx="460.87" cy="64.23" r="4.85" fill="#fff" stroke="#ff0000" stroke-width="1.4"/><path d="M460.27 59.42A4.85 4.85 0 1 1 460.27 69.04Z" fill="#ff0000"/>
<circle cx="455.50" cy="62.52" r="4.85" fill="#fff" stroke="#ff0000" stroke-width="1.4"/><path d="M454.90 57.70A4.85 4.85 0 1 1 454.90 67.33Z" fill="#ff0000"/>
<circle cx="450.13" cy="61.43" r="4.85" fill="#fff" stroke="#ff0000" stroke-width="1.4"/><path d="M449.53 56.61A4.85 4.85 0 1 1 449.53 66.24Z" fill="#ff0000"/>
<circle cx="444.76" cy="61.14" r="4.85" fill="#fff" stroke="#ff0000" stroke-width="1.4"/><path d="M444.16 56.32A4.85 4.85 0 1 1 444.16 65.95Z" fill="#ff0000"/>
<circle cx="439.39" cy="61.83" r="4.85" fill="#fff" stroke="#ff0000" stroke-width="1.4"/><path d="M438.79 57.02A4.85 4.85 0 1 1 438.79 66.64Z" fill="#ff0000"/>
<circle cx="434.02" cy="63.65" r="4.85" fill="#fff" stroke="#ff0000" stroke-width="1.4"/><path d="M433.42 58.84A4.85 4.85 0 1 1 433.42 68.46Z" fill="#ff0000"/>
<circle cx="428.65" cy="66.69" r="4.85" fill="#fff" stroke="#ff0000" stroke-width="1.4"/><path d="M428.05 61.88A4.85 4.85 0 1 1 428.05 71.50Z" fill="#ff0000"/>
<circle cx="423.28" cy="71.01" r="4.85" fill="#fff" stroke="#ff0000" stroke-width="1.4"/><path d="M422.68 66.20A4.85 4.85 0 1 1 422.68 75.82Z" fill="#ff0000"/>
<circle cx="417.91" cy="76.68" r="4.85" fill="#fff" stroke="#ff0000" stroke-width="1.4"/><path d="M417.31 71.87A4.85 4.85 0 1 1 417.31 81.50Z" fill="#ff0000"/>
<circle cx="412.54" cy="83.78" r="4.85" fill="#fff" stroke="#ff0000" stroke-width="1.4"/><path d="M411.94 78.97A4.85 4.85 0 1 1 411.94 88.60Z" fill="#ff0000"/>
<circle cx="407.17" cy="92.38" r="4.85" fill="#fff" stroke="#ff0000" stroke-width="1.4"/><path d="M406.57 87.56A4.85 4.85 0 1 1 406.57 97.19Z" fill="#ff0000"/>
<circle cx="401.80" cy="102.54" r="4.85" fill="#fff" stroke="#ff0000" stroke-width="1.4"/><path d="M401.20 97.72A4.85 4.85 0 1 1 401.20 107.35Z" fill="#ff0000"/>
<circle cx="616.60" cy="133.53" r="4.85" fill="#fff" stroke="#ff0000" stroke-width="1.4"/><path d="M616.00 128.71A4.85 4.85 0 1 1 616.00 138.34Z" fill="#ff0000"/>
<circle cx="611.23" cy="131.70" r="4.85" fill="#fff" stroke="#ff0000" stroke-width="1.4"/><path d="M610.63 126.89A4.85 4.85 0 1 1 610.63 136.52Z" fill="#ff0000"/>
<circle cx="605.86" cy="129.40" r="4.85" fill="#fff" stroke="#ff0000" stroke-width="1.4"/><path d="M605.26 124.59A4.85 4.85 0 1 1 605.26 134.22Z" fill="#ff0000"/>
<circle cx="600.49" cy="126.67" r="4.85" fill="#fff" stroke="#ff0000" stroke-width="1.4"/><path d="M599.89 121.86A4.85 4.85 0 1 1 599.89 131.48Z" fill="#ff0000"/>
<circle cx="595.12" cy="123.55" r="4.85" fill="#fff" stroke="#ff0000" stroke-width="1.4"/><path d="M594.52 118.74A4.85 4.85 0 1 1 594.52 128.37Z" fill="#ff0000"/>
<circle cx="589.75" cy="120.10" r="4.85" fill="#fff" stroke="#ff0000" stroke-width="1.4"/><path d="M589.15 115.28A4.85 4.85 0 1 1 589.15 124.91Z" fill="#ff0000"/>
<circle cx="584.38" cy="116.35" r="4.85" fill="#fff" stroke="#ff0000" stroke-width="1.4"/><path d="M583.78 111.53A4.85 4.85 0 1 1 583.78 121.16Z" fill="#ff0000"/>
<circle cx="579.01" cy="112.35" r="4.85" fill="#fff" stroke="#ff0000" stroke-width="1.4"/><path d="M578.41 107.53A4.85 4.85 0 1 1 578.41 117.16Z" fill="#ff0000"/>
<circle cx="573.64" cy="108.15" r="4.85" fill="#fff" stroke="#ff0000" stroke-width="1.4"/><path d="M573.04 103.33A4.85 4.85 0 1 1 573.04 112.96Z" fill="#ff0000"/>
<circle cx="568.27" cy="103.79" r="4.85" fill="#fff" stroke="#ff0000" stroke-width="1.4"/><path d="M567.67 98.98A4.85 4.85 0 1 1 567.67 108.60Z" fill="#ff0000"/>
<circle cx="562.90" cy="99.32" r="4.85" fill="#fff" stroke="#ff0000" stroke-width="1.4"/><path d="M562.30 94.51A4.85 4.85 0 1 1 562.30 104.14Z" fill="#ff0000"/>
<circle cx="557.53" cy="94.79" r="4.85" fill="#fff" stroke="#ff0000" stroke-width="1.4"/><path d="M556.93 89.98A4.85 4.85 0 1 1 556.93 99.61Z" fill="#ff0000"/>
<circle cx="552.16" cy="90.25" r="4.85" fill="#fff" stroke="#ff0000" stroke-width="1.4"/><path d="M551.56 85.43A4.85 4.85 0 1 1 551.56 95.06Z" fill="#ff0000"/>
<circle cx="546.79" cy="85.73" r="4.85" fill="#fff" stroke="#ff0000" stroke-width="1.4"/><path d="M546.19 80.91A4.85 4.85 0 1 1 546.19 90.54Z" fill="#ff0000"/>
<circle cx="541.42" cy="81.28" r="4.85" fill="#fff" stroke="#ff0000" stroke-width="1.4"/><path d="M540.82 76.47A4.85 4.85 0 1 1 540.82 86.09Z" fill="#ff0000"/>
<circle cx="536.05" cy="76.96" r="4.85" fill="#fff" stroke="#ff0000" stroke-width="1.4"/><path d="M535.45 72.14A4.85 4.85 0 1 1 535.45 81.77Z" fill="#ff0000"/>
<circle cx="530.68" cy="72.80" r="4.85" fill="#fff" stroke="#ff0000" stroke-width="1.4"/><path d="M530.08 67.99A4.85 4.85 0 1 1 530.08 77.61Z" fill="#ff0000"/>
<circle cx="525.31" cy="68.87" r="4.85" fill="#fff" stroke="#ff0000" stroke-width="1.4"/><path d="M524.71 64.06A4.85 4.85 0 1 1 524.71 73.69Z" fill="#ff0000"/>
<circle cx="519.94" cy="65.24" r="4.85" fill="#fff" stroke="#ff0000" stroke-width="1.4"/><path d="M519.34 60.43A4.85 4.85 0 1 1 519.34 70.06Z" fill="#ff0000"/>
<circle cx="514.57" cy="61.98" r="4.85" fill="#fff" stroke="#ff0000" stroke-width="1.4"/><path d="M513.97 57.17A4.85 4.85 0 1 1 513.97 66.80Z" fill="#ff0000"/>
<circle cx="509.20" cy="59.16" r="4.85" fill="#fff" stroke="#ff0000" stroke-width="1.4"/><path d="M508.60 54.35A4.85 4.85 0 1 1 508.60 63.97Z" fill="#ff0000"/>
<circle cx="503.83" cy="56.84" r="4.85" fill="#fff" stroke="#ff0000" stroke-width="1.4"/><path d="M503.23 52.03A4.85 4.85 0 1 1 503.23 61.65Z" fill="#ff0000"/>
<circle cx="498.46" cy="55.10" r="4.85" fill="#fff" stroke="#ff0000" stroke-width="1.4"/><path d="M497.86 50.29A4.85 4.85 0 1 1 497.86 59.91Z" fill="#ff0000"/>
<circle cx="493.09" cy="54.00" r="4.85" fill="#fff" stroke="#ff0000" stroke-width="1.4"/><path d="M492.49 49.19A4.85 4.85 0 1 1 492.49 58.81Z" fill="#ff0000"/>
<circle cx="487.72" cy="53.62" r="4.85" fill="#fff" stroke="#ff0000" stroke-width="1.4"/><path d="M487.12 48.81A4.85 4.85 0 1 1 487.12 58.43Z" fill="#ff0000"/>
<circle cx="482.35" cy="54.02" r="4.85" fill="#fff" stroke="#ff0000" stroke-width="1.4"/><path d="M481.75 49.21A4.85 4.85 0 1 1 481.75 58.83Z" fill="#ff0000"/>
<circle cx="476.98" cy="55.27" r="4.85" fill="#fff" stroke="#ff0000" stroke-width="1.4"/><path d="M476.38 50.46A4.85 4.85 0 1 1 476.38 60.09Z" fill="#ff0000"/>
<circle cx="471.61" cy="57.44" r="4.85" fill="#fff" stroke="#ff0000" stroke-width="1.4"/><path d="M471.01 52.63A4.85 4.85 0 1 1 471.01 62.26Z" fill="#ff0000"/>
<circle cx="466.24" cy="60.53" r="4.85" fill="#fff" stroke="#ff0000" stroke-width="1.4"/><path d="M465.64 55.71A4.85 4.85 0 1 1 465.64 65.34Z" fill="#ff0000"/>
<circle cx="460.87" cy="64.46" r="4.85" fill="#fff" stroke="#ff0000" stroke-width="1.4"/><path d="M460.27 59.65A4.85 4.85 0 1 1 460.27 69.27Z" fill="#ff0000"/>
<circle cx="455.50" cy="69.18" r="4.85" fill="#fff" stroke="#ff0000" stroke-width="1.4"/><path d="M454.90 64.37A4.85 4.85 0 1 1 454.90 74.00Z" fill="#ff0000"/>
<circle cx="450.13" cy="74.64" r="4.85" fill="#fff" stroke="#ff0000" stroke-width="1.4"/><path d="M449.53 69.83A4.85 4.85 0 1 1 449.53 79.46Z" fill="#ff0000"/>
<circle cx="444.76" cy="80.78" r="4.85" fill="#fff" stroke="#ff0000" stroke-width="1.4"/><path d="M444.16 75.97A4.85 4.85 0 1 1 444.16 85.59Z" fill="#ff0000"/>
<circle cx="439.39" cy="87.53" r="4.85" fill="#fff" stroke="#ff0000" stroke-width="1.4"/><path d="M438.79 82.72A4.85 4.85 0 1 1 438.79 92.34Z" fill="#ff0000"/>
<circle cx="434.02" cy="94.84" r="4.85" fill="#fff" stroke="#ff0000" stroke-width="1.4"/><path d="M433.42 90.03A4.85 4.85 0 1 1 433.42 99.65Z" fill="#ff0000"/>
<circle cx="428.65" cy="102.64" r="4.85" fill="#fff" stroke="#ff0000" stroke-width="1.4"/><path d="M428.05 97.83A4.85 4.85 0 1 1 428.05 107.46Z" fill="#ff0000"/>
<circle cx="423.28" cy="110.89" r="4.85" fill="#fff" stroke="#ff0000" stroke-width="1.4"/><path d="M422.68 106.08A4.85 4.85 0 1 1 422.68 115.70Z" fill="#ff0000"/>
<circle cx="417.91" cy="119.52" r="4.85" fill="#fff" stroke="#ff0000" stroke-width="1.4"/><path d="M417.31 114.70A4.85 4.85 0 1 1 417.31 124.33Z" fill="#ff0000"/>
<circle cx="412.54" cy="128.47" r="4.85" fill="#fff" stroke="#ff0000" stroke-width="1.4"/><path d="M411.94 123.65A4.85 4.85 0 1 1 411.94 133.28Z" fill="#ff0000"/>
<circle cx="407.17" cy="137.68" r="4.85" fill="#fff" stroke="#ff0000" stroke-width="1.4"/><path d="M406.57 132.86A4.85 4.85 0 1 1 406.57 142.49Z" fill="#ff0000"/>
<circle cx="401.80" cy="147.09" r="4.85" fill="#fff" stroke="#ff0000" stroke-width="1.4"/><path d="M401.20 142.28A4.85 4.85 0 1 1 401.20 151.90Z" fill="#ff0000"/>
<circle cx="616.60" cy="117.84" r="4.85" fill="#fff" stroke="#ff0000" stroke-width="1.4"/><path d="M616.00 113.03A4.85 4.85 0 1 1 616.00 122.66Z" fill="#ff0000"/>
<circle cx="611.23" cy="111.75" r="4.85" fill="#fff" stroke="#ff0000" stroke-width="1.4"/><path d="M610.63 106.94A4.85 4.85 0 1 1 610.63 116.56Z" fill="#ff0000"/>
<circle cx="605.86" cy="105.45" r="4.85" fill="#fff" stroke="#ff0000" stroke-width="1.4"/><path d="M605.26 100.63A4.85 4.85 0 1 1 605.26 110.26Z" fill="#ff0000"/>
<circle cx="600.49" cy="98.96" r="4.85" fill="#fff" stroke="#ff0000" stroke-width="1.4"/><path d="M599.89 94.15A4.85 4.85 0 1 1 599.89 103.77Z" fill="#ff0000"/>
<circle cx="595.12" cy="92.33" r="4.85" fill="#fff" stroke="#ff0000" stroke-width="1.4"/><path d="M594.52 87.52A4.85 4.85 0 1 1 594.52 97.14Z" fill="#ff0000"/>
<circle cx="589.75" cy="85.59" r="4.85" fill="#fff" stroke="#ff0000" stroke-width="1.4"/><path d="M589.15 80.77A4.85 4.85 0 1 1 589.15 90.40Z" fill="#ff0000"/>
<circle cx="584.38" cy="78.76" r="4.85" fill="#fff" stroke="#ff0000" stroke-width="1.4"/><path d="M583.78 73.95A4.85 4.85 0 1 1 583.78 83.58Z" fill="#ff0000"/>
<circle cx="579.01" cy="71.89" r="4.85" fill="#fff" stroke="#ff0000" stroke-width="1.4"/><path d="M578.41 67.08A4.85 4.85 0 1 1 578.41 76.70Z" fill="#ff0000"/>
<circle cx="573.64" cy="65.01" r="4.85" fill="#fff" stroke="#ff0000" stroke-width="1.4"/><path d="M573.04 60.19A4.85 4.85 0 1 1 573.04 69.82Z" fill="#ff0000"/>
<circle cx="568.27" cy="58.14" r="4.85" fill="#fff" stroke="#ff0000" stroke-width="1.4"/><path d="M567.67 53.33A4.85 4.85 0 1 1 567.67 62.95Z" fill="#ff0000"/>
<circle cx="562.90" cy="51.33" r="4.85" fill="#fff" stroke="#ff0000" stroke-width="1.4"/><path d="M562.30 46.51A4.85 4.85 0 1 1 562.30 56.14Z" fill="#ff0000"/>
<circle cx="557.53" cy="44.60" r="4.85" fill="#fff" stroke="#ff0000" stroke-width="1.4"/><path d="M556.93 39.79A4.85 4.85 0 1 1 556.93 49.41Z" fill="#ff0000"/>
<circle cx="552.16" cy="37.99" r="4.85" fill="#fff" stroke="#ff0000" stroke-width="1.4"/><path d="M551.56 33.17A4.85 4.85 0 1 1 551.56 42.80Z" fill="#ff0000"/>
<circle cx="546.79" cy="31.56" r="4.85" fill="#fff" stroke="#ff0000" stroke-width="1.4"/><path d="M546.19 26.75A4.85 4.85 0 1 1 546.19 36.38Z" fill="#ff0000"/>
<circle cx="541.42" cy="25.56" r="4.85" fill="#fff" stroke="#ff0000" stroke-width="1.4"/><path d="M540.82 20.75A4.85 4.85 0 1 1 540.82 30.38Z" fill="#ff0000"/>
<circle cx="536.05" cy="20.28" r="4.85" fill="#fff" stroke="#ff0000" stroke-width="1.4"/><path d="M535.45 15.47A4.85 4.85 0 1 1 535.45 25.10Z" fill="#ff0000"/>
<circle cx="530.68" cy="16.01" r="4.85" fill="#fff" stroke="#ff0000" stroke-width="1.4"/><path d="M530.08 11.20A4.85 4.85 0 1 1 530.08 20.82Z" fill="#ff0000"/>
<circle cx="525.31" cy="13.03" r="4.85" fill="#fff" stroke="#ff0000" stroke-width="1.4"/><path d="M524.71 8.22A4.85 4.85 0 1 1 524.71 17.85Z" fill="#ff0000"/>
<circle cx="519.94" cy="11.49" r="4.85" fill="#fff" stroke="#ff0000" stroke-width="1.4"/><path d="M519.34 6.68A4.85 4.85 0 1 1 519.34 16.30Z" fill="#ff0000"/>
<circle cx="514.57" cy="11.33" r="4.85" fill="#fff" stroke="#ff0000" stroke-width="1.4"/><path d="M513.97 6.52A4.85 4.85 0 1 1 513.97 16.14Z" fill="#ff0000"/>
<circle cx="509.20" cy="12.50" r="4.85" fill="#fff" stroke="#ff0000" stroke-width="1.4"/><path d="M508.60 7.68A4.85 4.85 0 1 1 508.60 17.31Z" fill="#ff0000"/>
<circle cx="503.83" cy="14.93" r="4.85" fill="#fff" stroke="#ff0000" stroke-width="1.4"/><path d="M503.23 10.12A4.85 4.85 0 1 1 503.23 19.74Z" fill="#ff0000"/>
<circle cx="498.46" cy="18.57" r="4.85" fill="#fff" stroke="#ff0000" stroke-width="1.4"/><path d="M497.86 13.76A4.85 4.85 0 1 1 497.86 23.38Z" fill="#ff0000"/>
<circle cx="493.09" cy="23.36" r="4.85" fill="#fff" stroke="#ff0000" stroke-width="1.4"/><path d="M492.49 18.55A4.85 4.85 0 1 1 492.49 28.18Z" fill="#ff0000"/>
<circle cx="487.72" cy="29.23" r="4.85" fill="#fff" stroke="#ff0000" stroke-width="1.4"/><path d="M487.12 24.42A4.85 4.85 0 1 1 487.12 34.05Z" fill="#ff0000"/>
<circle cx="482.35" cy="36.04" r="4.85" fill="#fff" stroke="#ff0000" stroke-width="1.4"/><path d="M481.75 31.23A4.85 4.85 0 1 1 481.75 40.86Z" fill="#ff0000"/>
<circle cx="476.98" cy="43.65" r="4.85" fill="#fff" stroke="#ff0000" stroke-width="1.4"/><path d="M476.38 38.84A4.85 4.85 0 1 1 476.38 48.46Z" fill="#ff0000"/>
<circle cx="471.61" cy="51.90" r="4.85" fill="#fff" stroke="#ff0000" stroke-width="1.4"/><path d="M471.01 47.09A4.85 4.85 0 1 1 471.01 56.71Z" fill="#ff0000"/>
<circle cx="466.24" cy="60.64" r="4.85" fill="#fff" stroke="#ff0000" stroke-width="1.4"/><path d="M465.64 55.83A4.85 4.85 0 1 1 465.64 65.46Z" fill="#ff0000"/>
<circle cx="460.87" cy="69.74" r="4.85" fill="#fff" stroke="#ff0000" stroke-width="1.4"/><path d="M460.27 64.92A4.85 4.85 0 1 1 460.27 74.55Z" fill="#ff0000"/>
<circle cx="455.50" cy="79.03" r="4.85" fill="#fff" stroke="#ff0000" stroke-width="1.4"/><path d="M454.90 74.21A4.85 4.85 0 1 1 454.90 83.84Z" fill="#ff0000"/>
<circle cx="450.13" cy="88.37" r="4.85" fill="#fff" stroke="#ff0000" stroke-width="1.4"/><path d="M449.53 83.56A4.85 4.85 0 1 1 449.53 93.18Z" fill="#ff0000"/>
<circle cx="444.76" cy="97.61" r="4.85" fill="#fff" stroke="#ff0000" stroke-width="1.4"/><path d="M444.16 92.80A4.85 4.85 0 1 1 444.16 102.42Z" fill="#ff0000"/>
<circle cx="439.39" cy="106.63" r="4.85" fill="#fff" stroke="#ff0000" stroke-width="1.4"/><path d="M438.79 101.82A4.85 4.85 0 1 1 438.79 111.44Z" fill="#ff0000"/>
<circle cx="434.02" cy="115.41" r="4.85" fill="#fff" stroke="#ff0000" stroke-width="1.4"/><path d="M433.42 110.60A4.85 4.85 0 1 1 433.42 120.23Z" fill="#ff0000"/>
<circle cx="428.65" cy="123.99" r="4.85" fill="#fff" stroke="#ff0000" stroke-width="1.4"/><path d="M428.05 119.18A4.85 4.85 0 1 1 428.05 128.81Z" fill="#ff0000"/>
<circle cx="423.28" cy="132.40" r="4.85" fill="#fff" stroke="#ff0000" stroke-width="1.4"/><path d="M422.68 127.59A4.85 4.85 0 1 1 422.68 137.21Z" fill="#ff0000"/>
<circle cx="417.91" cy="140.67" r="4.85" fill="#fff" stroke="#ff0000" stroke-width="1.4"/><path d="M417.31 135.85A4.85 4.85 0 1 1 417.31 145.48Z" fill="#ff0000"/>
<circle cx="412.54" cy="148.82" r="4.85" fill="#fff" stroke="#ff0000" stroke-width="1.4"/><path d="M411.94 144.01A4.85 4.85 0 1 1 411.94 153.64Z" fill="#ff0000"/>
<circle cx="407.17" cy="156.90" r="4.85" fill="#fff" stroke="#ff0000" stroke-width="1.4"/><path d="M406.57 152.09A4.85 4.85 0 1 1 406.57 161.72Z" fill="#ff0000"/>
<circle cx="401.80" cy="164.93" r="4.85" fill="#fff" stroke="#ff0000" stroke-width="1.4"/><path d="M401.20 160.12A4.85 4.85 0 1 1 401.20 169.75Z" fill="#ff0000"/>
<circle cx="616.60" cy="90.65" r="4.85" fill="#fff" stroke="#ff0000" stroke-width="1.4"/><path d="M616.00 85.83A4.85 4.85 0 1 1 616.00 95.46Z" fill="#ff0000"/>
<circle cx="611.23" cy="83.28" r="4.85" fill="#fff" stroke="#ff0000" stroke-width="1.4"/><path d="M610.63 78.46A4.85 4.85 0 1 1 610.63 88.09Z" fill="#ff0000"/>
<circle cx="605.86" cy="75.97" r="4.85" fill="#fff" stroke="#ff0000" stroke-width="1.4"/><path d="M605.26 71.16A4.85 4.85 0 1 1 605.26 80.78Z" fill="#ff0000"/>
<circle cx="600.49" cy="68.80" r="4.85" fill="#fff" stroke="#ff0000" stroke-width="1.4"/><path d="M599.89 63.99A4.85 4.85 0 1 1 599.89 73.61Z" fill="#ff0000"/>
<circle cx="595.12" cy="61.86" r="4.85" fill="#fff" stroke="#ff0000" stroke-width="1.4"/><path d="M594.52 57.05A4.85 4.85 0 1 1 594.52 66.67Z" fill="#ff0000"/>
<circle cx="589.75" cy="55.22" r="4.85" fill="#fff" stroke="#ff0000" stroke-width="1.4"/><path d="M589.15 50.41A4.85 4.85 0 1 1 589.15 60.04Z" fill="#ff0000"/>
<circle cx="584.38" cy="48.98" r="4.85" fill="#fff" stroke="#ff0000" stroke-width="1.4"/><path d="M583.78 44.16A4.85 4.85 0 1 1 583.78 53.79Z" fill="#ff0000"/>
<circle cx="579.01" cy="43.20" r="4.85" fill="#fff" stroke="#ff0000" stroke-width="1.4"/><path d="M578.41 38.39A4.85 4.85 0 1 1 578.41 48.01Z" fill="#ff0000"/>
<circle cx="573.64" cy="37.98" r="4.85" fill="#fff" stroke="#ff0000" stroke-width="1.4"/><path d="M573.04 33.16A4.85 4.85 0 1 1 573.04 42.79Z" fill="#ff0000"/>
<circle cx="568.27" cy="33.39" r="4.85" fill="#fff" stroke="#ff0000" stroke-width="1.4"/><path d="M567.67 28.57A4.85 4.85 0 1 1 567.67 38.20Z" fill="#ff0000"/>
<circle cx="562.90" cy="29.51" r="4.85" fill="#fff" stroke="#ff0000" stroke-width="1.4"/><path d="M562.30 24.70A4.85 4.85 0 1 1 562.30 34.33Z" fill="#ff0000"/>
<circle cx="557.53" cy="26.44" r="4.85" fill="#fff" stroke="#ff0000" stroke-width="1.4"/><path d="M556.93 21.63A4.85 4.85 0 1 1 556.93 31.25Z" fill="#ff0000"/>
<circle cx="552.16" cy="24.19" r="4.85" fill="#fff" stroke="#ff0000" stroke-width="1.4"/><path d="M551.56 19.38A4.85 4.85 0 1 1 551.56 29.00Z" fill="#ff0000"/>
<circle cx="546.79" cy="22.75" r="4.85" fill="#fff" stroke="#ff0000" stroke-width="1.4"/><path d="M546.19 17.93A4.85 4.85 0 1 1 546.19 27.56Z" fill="#ff0000"/>
<circle cx="541.42" cy="22.09" r="4.85" fill="#fff" stroke="#ff0000" stroke-width="1.4"/><path d="M540.82 17.27A4.85 4.85 0 1 1 540.82 26.90Z" fill="#ff0000"/>
<circle cx="536.05" cy="22.19" r="4.85" fill="#fff" stroke="#ff0000" stroke-width="1.4"/><path d="M535.45 17.38A4.85 4.85 0 1 1 535.45 27.00Z" fill="#ff0000"/>
<circle cx="530.68" cy="23.04" r="4.85" fill="#fff" stroke="#ff0000" stroke-width="1.4"/><path d="M530.08 18.22A4.85 4.85 0 1 1 530.08 27.85Z" fill="#ff0000"/>
<circle cx="525.31" cy="24.60" r="4.85" fill="#fff" stroke="#ff0000" stroke-width="1.4"/><path d="M524.71 19.79A4.85 4.85 0 1 1 524.71 29.42Z" fill="#ff0000"/>
<circle cx="519.94" cy="26.87" r="4.85" fill="#fff" stroke="#ff0000" stroke-width="1.4"/><path d="M519.34 22.06A4.85 4.85 0 1 1 519.34 31.69Z" fill="#ff0000"/>
<circle cx="514.57" cy="29.82" r="4.85" fill="#fff" stroke="#ff0000" stroke-width="1.4"/><path d="M513.97 25.01A4.85 4.85 0 1 1 513.97 34.64Z" fill="#ff0000"/>
<circle cx="509.20" cy="33.43" r="4.85" fill="#fff" stroke="#ff0000" stroke-width="1.4"/><path d="M508.60 28.62A4.85 4.85 0 1 1 508.60 38.25Z" fill="#ff0000"/>
<circle cx="503.83" cy="37.68" r="4.85" fill="#fff" stroke="#ff0000" stroke-width="1.4"/><path d="M503.23 32.87A4.85 4.85 0 1 1 503.23 42.49Z" fill="#ff0000"/>
<circle cx="498.46" cy="42.54" r="4.85" fill="#fff" stroke="#ff0000" stroke-width="1.4"/><path d="M497.86 37.72A4.85 4.85 0 1 1 497.86 47.35Z" fill="#ff0000"/>
<circle cx="493.09" cy="47.97" r="4.85" fill="#fff" stroke="#ff0000" stroke-width="1.4"/><path d="M492.49 43.15A4.85 4.85 0 1 1 492.49 52.78Z" fill="#ff0000"/>
<circle cx="487.72" cy="53.94" r="4.85" fill="#fff" stroke="#ff0000" stroke-width="1.4"/><path d="M487.12 49.13A4.85 4.85 0 1 1 487.12 58.75Z" fill="#ff0000"/>
<circle cx="482.35" cy="60.42" r="4.85" fill="#fff" stroke="#ff0000" stroke-width="1.4"/><path d="M481.75 55.60A4.85 4.85 0 1 1 481.75 65.23Z" fill="#ff0000"/>
<circle cx="476.98" cy="67.31" r="4.85" fill="#fff" stroke="#ff0000" stroke-width="1.4"/><path d="M476.38 62.50A4.85 4.85 0 1 1 476.38 72.13Z" fill="#ff0000"/>
<circle cx="471.61" cy="74.56" r="4.85" fill="#fff" stroke="#ff0000" stroke-width="1.4"/><path d="M471.01 69.75A4.85 4.85 0 1 1 471.01 79.37Z" fill="#ff0000"/>
<circle cx="466.24" cy="82.08" r="4.85" fill="#fff" stroke="#ff0000" stroke-width="1.4"/><path d="M465.64 77.26A4.85 4.85 0 1 1 465.64 86.89Z" fill="#ff0000"/>
<circle cx="460.87" cy="89.79" r="4.85" fill="#fff" stroke="#ff0000" stroke-width="1.4"/><path d="M460.27 84.97A4.85 4.85 0 1 1 460.27 94.60Z" fill="#ff0000"/>
<circle cx="455.50" cy="97.61" r="4.85" fill="#fff" stroke="#ff0000" stroke-width="1.4"/><path d="M454.90 92.80A4.85 4.85 0 1 1 454.90 102.43Z" fill="#ff0000"/>
<circle cx="450.13" cy="105.50" r="4.85" fill="#fff" stroke="#ff0000" stroke-width="1.4"/><path d="M449.53 100.69A4.85 4.85 0 1 1 449.53 110.31Z" fill="#ff0000"/>
<circle cx="444.76" cy="113.40" r="4.85" fill="#fff" stroke="#ff0000" stroke-width="1.4"/><path d="M444.16 108.59A4.85 4.85 0 1 1 444.16 118.21Z" fill="#ff0000"/>
<circle cx="439.39" cy="121.26" r="4.85" fill="#fff" stroke="#ff0000" stroke-width="1.4"/><path d="M438.79 116.45A4.85 4.85 0 1 1 438.79 126.07Z" fill="#ff0000"/>
<circle cx="434.02" cy="129.03" r="4.85" fill="#fff" stroke="#ff0000" stroke-width="1.4"/><path d="M433.42 124.21A4.85 4.85 0 1 1 433.42 133.84Z" fill="#ff0000"/>
<circle cx="428.65" cy="136.65" r="4.85" fill="#fff" stroke="#ff0000" stroke-width="1.4"/><path d="M428.05 131.84A4.85 4.85 0 1 1 428.05 141.47Z" fill="#ff0000"/>
<circle cx="423.28" cy="144.09" r="4.85" fill="#fff" stroke="#ff0000" stroke-width="1.4"/><path d="M422.68 139.27A4.85 4.85 0 1 1 422.68 148.90Z" fill="#ff0000"/>
<circle cx="417.91" cy="151.28" r="4.85" fill="#fff" stroke="#ff0000" stroke-width="1.4"/><path d="M417.31 146.46A4.85 4.85 0 1 1 417.31 156.09Z" fill="#ff0000"/>
<circle cx="412.54" cy="158.17" r="4.85" fill="#fff" stroke="#ff0000" stroke-width="1.4"/><path d="M411.94 153.36A4.85 4.85 0 1 1 411.94 162.99Z" fill="#ff0000"/>
<circle cx="407.17" cy="164.72" r="4.85" fill="#fff" stroke="#ff0000" stroke-width="1.4"/><path d="M406.57 159.91A4.85 4.85 0 1 1 406.57 169.54Z" fill="#ff0000"/>
<circle cx="401.80" cy="170.88" r="4.85" fill="#fff" stroke="#ff0000" stroke-width="1.4"/><path d="M401.20 166.07A4.85 4.85 0 1 1 401.20 175.69Z" fill="#ff0000"/>
<circle cx="616.40" cy="320.26" r="4.85" fill="#fff" stroke="#0000ff" stroke-width="1.4"/><path d="M615.80 315.44A4.85 4.85 0 1 1 615.80 325.07Z" fill="#0000ff"/>
<circle cx="611.03" cy="316.83" r="4.85" fill="#fff" stroke="#0000ff" stroke-width="1.4"/><path d="M610.43 312.02A4.85 4.85 0 1 1 610.43 321.64Z" fill="#0000ff"/>
<circle cx="605.67" cy="313.50" r="4.85" fill="#fff" stroke="#0000ff" stroke-width="1.4"/><path d="M605.07 308.69A4.85 4.85 0 1 1 605.07 318.31Z" fill="#0000ff"/>
<circle cx="600.30" cy="310.28" r="4.85" fill="#fff" stroke="#0000ff" stroke-width="1.4"/><path d="M599.70 305.46A4.85 4.85 0 1 1 599.70 315.09Z" fill="#0000ff"/>
<circle cx="594.94" cy="307.11" r="4.85" fill="#fff" stroke="#0000ff" stroke-width="1.4"/><path d="M594.34 302.29A4.85 4.85 0 1 1 594.34 311.92Z" fill="#0000ff"/>
<circle cx="589.58" cy="303.95" r="4.85" fill="#fff" stroke="#0000ff" stroke-width="1.4"/><path d="M588.98 299.13A4.85 4.85 0 1 1 588.98 308.76Z" fill="#0000ff"/>
<circle cx="584.21" cy="300.74" r="4.85" fill="#fff" stroke="#0000ff" stroke-width="1.4"/><path d="M583.61 295.93A4.85 4.85 0 1 1 583.61 305.55Z" fill="#0000ff"/>
<circle cx="578.85" cy="297.44" r="4.85" fill="#fff" stroke="#0000ff" stroke-width="1.4"/><path d="M578.25 292.62A4.85 4.85 0 1 1 578.25 302.25Z" fill="#0000ff"/>
<circle cx="573.48" cy="294.12" r="4.85" fill="#fff" stroke="#0000ff" stroke-width="1.4"/><path d="M572.88 289.30A4.85 4.85 0 1 1 572.88 298.93Z" fill="#0000ff"/>
<circle cx="568.12" cy="290.90" r="4.85" fill="#fff" stroke="#0000ff" stroke-width="1.4"/><path d="M567.51 286.09A4.85 4.85 0 1 1 567.51 295.72Z" fill="#0000ff"/>
<circle cx="562.75" cy="287.90" r="4.85" fill="#fff" stroke="#0000ff" stroke-width="1.4"/><path d="M562.15 283.09A4.85 4.85 0 1 1 562.15 292.71Z" fill="#0000ff"/>
<circle cx="557.38" cy="285.04" r="4.85" fill="#fff" stroke="#0000ff" stroke-width="1.4"/><path d="M556.78 280.23A4.85 4.85 0 1 1 556.78 289.85Z" fill="#0000ff"/>
<circle cx="552.02" cy="282.30" r="4.85" fill="#fff" stroke="#0000ff" stroke-width="1.4"/><path d="M551.42 277.49A4.85 4.85 0 1 1 551.42 287.11Z" fill="#0000ff"/>
<circle cx="546.65" cy="279.71" r="4.85" fill="#fff" stroke="#0000ff" stroke-width="1.4"/><path d="M546.05 274.90A4.85 4.85 0 1 1 546.05 284.52Z" fill="#0000ff"/>
<circle cx="541.29" cy="277.29" r="4.85" fill="#fff" stroke="#0000ff" stroke-width="1.4"/><path d="M540.69 272.48A4.85 4.85 0 1 1 540.69 282.10Z" fill="#0000ff"/>
<circle cx="535.92" cy="274.97" r="4.85" fill="#fff" stroke="#0000ff" stroke-width="1.4"/><path d="M535.32 270.15A4.85 4.85 0 1 1 535.32 279.78Z" fill="#0000ff"/>
<circle cx="530.56" cy="272.77" r="4.85" fill="#fff" stroke="#0000ff" stroke-width="1.4"/><path d="M529.96 267.95A4.85 4.85 0 1 1 529.96 277.58Z" fill="#0000ff"/>
<circle cx="525.19" cy="270.75" r="4.85" fill="#fff" stroke="#0000ff" stroke-width="1.4"/><path d="M524.59 265.94A4.85 4.85 0 1 1 524.59 275.56Z" fill="#0000ff"/>
<circle cx="519.83" cy="268.93" r="4.85" fill="#fff" stroke="#0000ff" stroke-width="1.4"/><path d="M519.23 264.12A4.85 4.85 0 1 1 519.23 273.75Z" fill="#0000ff"/>
<circle cx="514.47" cy="267.00" r="4.85" fill="#fff" stroke="#0000ff" stroke-width="1.4"/><path d="M513.87 262.19A4.85 4.85 0 1 1 513.87 271.81Z" fill="#0000ff"/>
<circle cx="509.10" cy="265.77" r="4.85" fill="#fff" stroke="#0000ff" stroke-width="1.4"/><path d="M508.50 260.96A4.85 4.85 0 1 1 508.50 270.58Z" fill="#0000ff"/>
<circle cx="503.74" cy="266.05" r="4.85" fill="#fff" stroke="#0000ff" stroke-width="1.4"/><path d="M503.13 261.23A4.85 4.85 0 1 1 503.13 270.86Z" fill="#0000ff"/>
<circle cx="498.37" cy="267.41" r="4.85" fill="#fff" stroke="#0000ff" stroke-width="1.4"/><path d="M497.77 262.59A4.85 4.85 0 1 1 497.77 272.22Z" fill="#0000ff"/>
<circle cx="493.00" cy="269.42" r="4.85" fill="#fff" stroke="#0000ff" stroke-width="1.4"/><path d="M492.40 264.60A4.85 4.85 0 1 1 492.40 274.23Z" fill="#0000ff"/>
<circle cx="487.64" cy="271.94" r="4.85" fill="#fff" stroke="#0000ff" stroke-width="1.4"/><path d="M487.04 267.13A4.85 4.85 0 1 1 487.04 276.76Z" fill="#0000ff"/>
<circle cx="482.27" cy="276.09" r="4.85" fill="#fff" stroke="#0000ff" stroke-width="1.4"/><path d="M481.67 271.27A4.85 4.85 0 1 1 481.67 280.90Z" fill="#0000ff"/>
<circle cx="476.91" cy="281.37" r="4.85" fill="#fff" stroke="#0000ff" stroke-width="1.4"/><path d="M476.31 276.56A4.85 4.85 0 1 1 476.31 286.19Z" fill="#0000ff"/>
<circle cx="471.55" cy="287.52" r="4.85" fill="#fff" stroke="#0000ff" stroke-width="1.4"/><path d="M470.94 282.71A4.85 4.85 0 1 1 470.94 292.33Z" fill="#0000ff"/>
<circle cx="466.18" cy="295.32" r="4.85" fill="#fff" stroke="#0000ff" stroke-width="1.4"/><path d="M465.58 290.51A4.85 4.85 0 1 1 465.58 300.13Z" fill="#0000ff"/>
<circle cx="460.81" cy="303.90" r="4.85" fill="#fff" stroke="#0000ff" stroke-width="1.4"/><path d="M460.21 299.08A4.85 4.85 0 1 1 460.21 308.71Z" fill="#0000ff"/>
<circle cx="455.45" cy="312.73" r="4.85" fill="#fff" stroke="#0000ff" stroke-width="1.4"/><path d="M454.85 307.91A4.85 4.85 0 1 1 454.85 317.54Z" fill="#0000ff"/>
<circle cx="450.09" cy="322.20" r="4.85" fill="#fff" stroke="#0000ff" stroke-width="1.4"/><path d="M449.49 317.39A4.85 4.85 0 1 1 449.49 327.02Z" fill="#0000ff"/>
<circle cx="444.72" cy="331.75" r="4.85" fill="#fff" stroke="#0000ff" stroke-width="1.4"/><path d="M444.12 326.94A4.85 4.85 0 1 1 444.12 336.56Z" fill="#0000ff"/>
<circle cx="439.36" cy="341.08" r="4.85" fill="#fff" stroke="#0000ff" stroke-width="1.4"/><path d="M438.75 336.27A4.85 4.85 0 1 1 438.75 345.90Z" fill="#0000ff"/>
<circle cx="433.99" cy="350.39" r="4.85" fill="#fff" stroke="#0000ff" stroke-width="1.4"/><path d="M433.39 345.58A4.85 4.85 0 1 1 433.39 355.20Z" fill="#0000ff"/>
<circle cx="428.62" cy="359.46" r="4.85" fill="#fff" stroke="#0000ff" stroke-width="1.4"/><path d="M428.02 354.65A4.85 4.85 0 1 1 428.02 364.27Z" fill="#0000ff"/>
<circle cx="423.26" cy="368.04" r="4.85" fill="#fff" stroke="#0000ff" stroke-width="1.4"/><path d="M422.66 363.22A4.85 4.85 0 1 1 422.66 372.85Z" fill="#0000ff"/>
<circle cx="417.89" cy="376.40" r="4.85" fill="#fff" stroke="#0000ff" stroke-width="1.4"/><path d="M417.29 371.59A4.85 4.85 0 1 1 417.29 381.22Z" fill="#0000ff"/>
<circle cx="412.53" cy="385.13" r="4.85" fill="#fff" stroke="#0000ff" stroke-width="1.4"/><path d="M411.93 380.31A4.85 4.85 0 1 1 411.93 389.94Z" fill="#0000ff"/>
<circle cx="407.17" cy="394.39" r="4.85" fill="#fff" stroke="#0000ff" stroke-width="1.4"/><path d="M406.56 389.58A4.85 4.85 0 1 1 406.56 399.20Z" fill="#0000ff"/>
<circle cx="401.80" cy="404.03" r="4.85" fill="#fff" stroke="#0000ff" stroke-width="1.4"/><path d="M401.20 399.22A4.85 4.85 0 1 1 401.20 408.85Z" fill="#0000ff"/>
<circle cx="616.40" cy="290.08" r="4.85" fill="#fff" stroke="#0000ff" stroke-width="1.4"/><path d="M615.80 285.26A4.85 4.85 0 1 1 615.80 294.89Z" fill="#0000ff"/>
<circle cx="611.03" cy="285.13" r="4.85" fill="#fff" stroke="#0000ff" stroke-width="1.4"/><path d="M610.43 280.32A4.85 4.85 0 1 1 610.43 289.95Z" fill="#0000ff"/>
<circle cx="605.67" cy="280.43" r="4.85" fill="#fff" stroke="#0000ff" stroke-width="1.4"/><path d="M605.07 275.62A4.85 4.85 0 1 1 605.07 285.24Z" fill="#0000ff"/>
<circle cx="600.30" cy="275.96" r="4.85" fill="#fff" stroke="#0000ff" stroke-width="1.4"/><path d="M599.70 271.15A4.85 4.85 0 1 1 599.70 280.77Z" fill="#0000ff"/>
<circle cx="594.94" cy="271.72" r="4.85" fill="#fff" stroke="#0000ff" stroke-width="1.4"/><path d="M594.34 266.90A4.85 4.85 0 1 1 594.34 276.53Z" fill="#0000ff"/>
<circle cx="589.58" cy="267.69" r="4.85" fill="#fff" stroke="#0000ff" stroke-width="1.4"/><path d="M588.98 262.87A4.85 4.85 0 1 1 588.98 272.50Z" fill="#0000ff"/>
<circle cx="584.21" cy="263.65" r="4.85" fill="#fff" stroke="#0000ff" stroke-width="1.4"/><path d="M583.61 258.84A4.85 4.85 0 1 1 583.61 268.46Z" fill="#0000ff"/>
<circle cx="578.85" cy="259.98" r="4.85" fill="#fff" stroke="#0000ff" stroke-width="1.4"/><path d="M578.25 255.17A4.85 4.85 0 1 1 578.25 264.80Z" fill="#0000ff"/>
<circle cx="573.48" cy="257.36" r="4.85" fill="#fff" stroke="#0000ff" stroke-width="1.4"/><path d="M572.88 252.55A4.85 4.85 0 1 1 572.88 262.17Z" fill="#0000ff"/>
<circle cx="568.12" cy="255.14" r="4.85" fill="#fff" stroke="#0000ff" stroke-width="1.4"/><path d="M567.51 250.33A4.85 4.85 0 1 1 567.51 259.96Z" fill="#0000ff"/>
<circle cx="562.75" cy="253.33" r="4.85" fill="#fff" stroke="#0000ff" stroke-width="1.4"/><path d="M562.15 248.52A4.85 4.85 0 1 1 562.15 258.14Z" fill="#0000ff"/>
<circle cx="557.38" cy="252.36" r="4.85" fill="#fff" stroke="#0000ff" stroke-width="1.4"/><path d="M556.78 247.55A4.85 4.85 0 1 1 556.78 257.17Z" fill="#0000ff"/>
<circle cx="552.02" cy="252.61" r="4.85" fill="#fff" stroke="#0000ff" stroke-width="1.4"/><path d="M551.42 247.80A4.85 4.85 0 1 1 551.42 257.42Z" fill="#0000ff"/>
<circle cx="546.65" cy="253.97" r="4.85" fill="#fff" stroke="#0000ff" stroke-width="1.4"/><path d="M546.05 249.16A4.85 4.85 0 1 1 546.05 258.78Z" fill="#0000ff"/>
<circle cx="541.29" cy="256.14" r="4.85" fill="#fff" stroke="#0000ff" stroke-width="1.4"/><path d="M540.69 251.33A4.85 4.85 0 1 1 540.69 260.95Z" fill="#0000ff"/>
<circle cx="535.92" cy="258.82" r="4.85" fill="#fff" stroke="#0000ff" stroke-width="1.4"/><path d="M535.32 254.00A4.85 4.85 0 1 1 535.32 263.63Z" fill="#0000ff"/>
<circle cx="530.56" cy="261.70" r="4.85" fill="#fff" stroke="#0000ff" stroke-width="1.4"/><path d="M529.96 256.89A4.85 4.85 0 1 1 529.96 266.51Z" fill="#0000ff"/>
<circle cx="525.19" cy="265.18" r="4.85" fill="#fff" stroke="#0000ff" stroke-width="1.4"/><path d="M524.59 260.37A4.85 4.85 0 1 1 524.59 269.99Z" fill="#0000ff"/>
<circle cx="519.83" cy="269.81" r="4.85" fill="#fff" stroke="#0000ff" stroke-width="1.4"/><path d="M519.23 265.00A4.85 4.85 0 1 1 519.23 274.62Z" fill="#0000ff"/>
<circle cx="514.47" cy="275.04" r="4.85" fill="#fff" stroke="#0000ff" stroke-width="1.4"/><path d="M513.87 270.23A4.85 4.85 0 1 1 513.87 279.86Z" fill="#0000ff"/>
<circle cx="509.10" cy="281.09" r="4.85" fill="#fff" stroke="#0000ff" stroke-width="1.4"/><path d="M508.50 276.28A4.85 4.85 0 1 1 508.50 285.91Z" fill="#0000ff"/>
<circle cx="503.74" cy="288.07" r="4.85" fill="#fff" stroke="#0000ff" stroke-width="1.4"/><path d="M503.13 283.26A4.85 4.85 0 1 1 503.13 292.89Z" fill="#0000ff"/>
<circle cx="498.37" cy="296.07" r="4.85" fill="#fff" stroke="#0000ff" stroke-width="1.4"/><path d="M497.77 291.25A4.85 4.85 0 1 1 497.77 300.88Z" fill="#0000ff"/>
<circle cx="493.00" cy="305.34" r="4.85" fill="#fff" stroke="#0000ff" stroke-width="1.4"/><path d="M492.40 300.53A4.85 4.85 0 1 1 492.40 310.15Z" fill="#0000ff"/>
<circle cx="487.64" cy="314.99" r="4.85" fill="#fff" stroke="#0000ff" stroke-width="1.4"/><path d="M487.04 310.18A4.85 4.85 0 1 1 487.04 319.81Z" fill="#0000ff"/>
<circle cx="482.27" cy="324.52" r="4.85" fill="#fff" stroke="#0000ff" stroke-width="1.4"/><path d="M481.67 319.70A4.85 4.85 0 1 1 481.67 329.33Z" fill="#0000ff"/>
<circle cx="476.91" cy="334.27" r="4.85" fill="#fff" stroke="#0000ff" stroke-width="1.4"/><path d="M476.31 329.46A4.85 4.85 0 1 1 476.31 339.08Z" fill="#0000ff"/>
<circle cx="471.55" cy="343.95" r="4.85" fill="#fff" stroke="#0000ff" stroke-width="1.4"/><path d="M470.94 339.14A4.85 4.85 0 1 1 470.94 348.76Z" fill="#0000ff"/>
<circle cx="466.18" cy="353.22" r="4.85" fill="#fff" stroke="#0000ff" stroke-width="1.4"/><path d="M465.58 348.41A4.85 4.85 0 1 1 465.58 358.03Z" fill="#0000ff"/>
<circle cx="460.81" cy="362.12" r="4.85" fill="#fff" stroke="#0000ff" stroke-width="1.4"/><path d="M460.21 357.30A4.85 4.85 0 1 1 460.21 366.93Z" fill="#0000ff"/>
<circle cx="455.45" cy="370.76" r="4.85" fill="#fff" stroke="#0000ff" stroke-width="1.4"/><path d="M454.85 365.94A4.85 4.85 0 1 1 454.85 375.57Z" fill="#0000ff"/>
<circle cx="450.09" cy="379.15" r="4.85" fill="#fff" stroke="#0000ff" stroke-width="1.4"/><path d="M449.49 374.34A4.85 4.85 0 1 1 449.49 383.96Z" fill="#0000ff"/>
<circle cx="444.72" cy="387.46" r="4.85" fill="#fff" stroke="#0000ff" stroke-width="1.4"/><path d="M444.12 382.65A4.85 4.85 0 1 1 444.12 392.27Z" fill="#0000ff"/>
<circle cx="439.36" cy="395.98" r="4.85" fill="#fff" stroke="#0000ff" stroke-width="1.4"/><path d="M438.75 391.17A4.85 4.85 0 1 1 438.75 400.79Z" fill="#0000ff"/>
<circle cx="433.99" cy="403.94" r="4.85" fill="#fff" stroke="#0000ff" stroke-width="1.4"/><path d="M433.39 399.13A4.85 4.85 0 1 1 433.39 408.75Z" fill="#0000ff"/>
<circle cx="428.62" cy="410.47" r="4.85" fill="#fff" stroke="#0000ff" stroke-width="1.4"/><path d="M428.02 405.66A4.85 4.85 0 1 1 428.02 415.29Z" fill="#0000ff"/>
<circle cx="423.26" cy="415.85" r="4.85" fill="#fff" stroke="#0000ff" stroke-width="1.4"/><path d="M422.66 411.04A4.85 4.85 0 1 1 422.66 420.67Z" fill="#0000ff"/>
<circle cx="417.89" cy="420.81" r="4.85" fill="#fff" stroke="#0000ff" stroke-width="1.4"/><path d="M417.29 416.00A4.85 4.85 0 1 1 417.29 425.63Z" fill="#0000ff"/>
<circle cx="412.53" cy="425.18" r="4.85" fill="#fff" stroke="#0000ff" stroke-width="1.4"/><path d="M411.93 420.37A4.85 4.85 0 1 1 411.93 430.00Z" fill="#0000ff"/>
<circle cx="407.17" cy="428.78" r="4.85" fill="#fff" stroke="#0000ff" stroke-width="1.4"/><path d="M406.56 423.97A4.85 4.85 0 1 1 406.56 433.59Z" fill="#0000ff"/>
<circle cx="401.80" cy="431.42" r="4.85" fill="#fff" stroke="#0000ff" stroke-width="1.4"/><path d="M401.20 426.61A4.85 4.85 0 1 1 401.20 436.23Z" fill="#0000ff"/>
<circle cx="616.40" cy="246.01" r="4.85" fill="#fff" stroke="#0000ff" stroke-width="1.4"/><path d="M615.80 241.20A4.85 4.85 0 1 1 615.80 250.82Z" fill="#0000ff"/>
<circle cx="611.03" cy="246.72" r="4.85" fill="#fff" stroke="#0000ff" stroke-width="1.4"/><path d="M610.43 241.91A4.85 4.85 0 1 1 610.43 251.54Z" fill="#0000ff"/>
<circle cx="605.67" cy="247.81" r="4.85" fill="#fff" stroke="#0000ff" stroke-width="1.4"/><path d="M605.07 243.00A4.85 4.85 0 1 1 605.07 252.62Z" fill="#0000ff"/>
<circle cx="600.30" cy="249.17" r="4.85" fill="#fff" stroke="#0000ff" stroke-width="1.4"/><path d="M599.70 244.35A4.85 4.85 0 1 1 599.70 253.98Z" fill="#0000ff"/>
<circle cx="594.94" cy="250.70" r="4.85" fill="#fff" stroke="#0000ff" stroke-width="1.4"/><path d="M594.34 245.89A4.85 4.85 0 1 1 594.34 255.52Z" fill="#0000ff"/>
<circle cx="589.58" cy="252.70" r="4.85" fill="#fff" stroke="#0000ff" stroke-width="1.4"/><path d="M588.98 247.89A4.85 4.85 0 1 1 588.98 257.51Z" fill="#0000ff"/>
<circle cx="584.21" cy="255.19" r="4.85" fill="#fff" stroke="#0000ff" stroke-width="1.4"/><path d="M583.61 250.37A4.85 4.85 0 1 1 583.61 260.00Z" fill="#0000ff"/>
<circle cx="578.85" cy="258.13" r="4.85" fill="#fff" stroke="#0000ff" stroke-width="1.4"/><path d="M578.25 253.32A4.85 4.85 0 1 1 578.25 262.94Z" fill="#0000ff"/>
<circle cx="573.48" cy="261.79" r="4.85" fill="#fff" stroke="#0000ff" stroke-width="1.4"/><path d="M572.88 256.98A4.85 4.85 0 1 1 572.88 266.61Z" fill="#0000ff"/>
<circle cx="568.12" cy="266.14" r="4.85" fill="#fff" stroke="#0000ff" stroke-width="1.4"/><path d="M567.51 261.32A4.85 4.85 0 1 1 567.51 270.95Z" fill="#0000ff"/>
<circle cx="562.75" cy="271.12" r="4.85" fill="#fff" stroke="#0000ff" stroke-width="1.4"/><path d="M562.15 266.31A4.85 4.85 0 1 1 562.15 275.94Z" fill="#0000ff"/>
<circle cx="557.38" cy="277.26" r="4.85" fill="#fff" stroke="#0000ff" stroke-width="1.4"/><path d="M556.78 272.45A4.85 4.85 0 1 1 556.78 282.08Z" fill="#0000ff"/>
<circle cx="552.02" cy="284.31" r="4.85" fill="#fff" stroke="#0000ff" stroke-width="1.4"/><path d="M551.42 279.50A4.85 4.85 0 1 1 551.42 289.13Z" fill="#0000ff"/>
<circle cx="546.65" cy="291.77" r="4.85" fill="#fff" stroke="#0000ff" stroke-width="1.4"/><path d="M546.05 286.95A4.85 4.85 0 1 1 546.05 296.58Z" fill="#0000ff"/>
<circle cx="541.29" cy="299.83" r="4.85" fill="#fff" stroke="#0000ff" stroke-width="1.4"/><path d="M540.69 295.02A4.85 4.85 0 1 1 540.69 304.65Z" fill="#0000ff"/>
<circle cx="535.92" cy="308.47" r="4.85" fill="#fff" stroke="#0000ff" stroke-width="1.4"/><path d="M535.32 303.65A4.85 4.85 0 1 1 535.32 313.28Z" fill="#0000ff"/>
<circle cx="530.56" cy="317.14" r="4.85" fill="#fff" stroke="#0000ff" stroke-width="1.4"/><path d="M529.96 312.33A4.85 4.85 0 1 1 529.96 321.96Z" fill="#0000ff"/>
<circle cx="525.19" cy="325.94" r="4.85" fill="#fff" stroke="#0000ff" stroke-width="1.4"/><path d="M524.59 321.13A4.85 4.85 0 1 1 524.59 330.75Z" fill="#0000ff"/>
<circle cx="519.83" cy="334.81" r="4.85" fill="#fff" stroke="#0000ff" stroke-width="1.4"/><path d="M519.23 330.00A4.85 4.85 0 1 1 519.23 339.62Z" fill="#0000ff"/>
<circle cx="514.47" cy="343.73" r="4.85" fill="#fff" stroke="#0000ff" stroke-width="1.4"/><path d="M513.87 338.91A4.85 4.85 0 1 1 513.87 348.54Z" fill="#0000ff"/>
<circle cx="509.10" cy="353.20" r="4.85" fill="#fff" stroke="#0000ff" stroke-width="1.4"/><path d="M508.50 348.39A4.85 4.85 0 1 1 508.50 358.01Z" fill="#0000ff"/>
<circle cx="503.74" cy="362.85" r="4.85" fill="#fff" stroke="#0000ff" stroke-width="1.4"/><path d="M503.13 358.04A4.85 4.85 0 1 1 503.13 367.66Z" fill="#0000ff"/>
<circle cx="498.37" cy="372.16" r="4.85" fill="#fff" stroke="#0000ff" stroke-width="1.4"/><path d="M497.77 367.34A4.85 4.85 0 1 1 497.77 376.97Z" fill="#0000ff"/>
<circle cx="493.00" cy="380.62" r="4.85" fill="#fff" stroke="#0000ff" stroke-width="1.4"/><path d="M492.40 375.80A4.85 4.85 0 1 1 492.40 385.43Z" fill="#0000ff"/>
<circle cx="487.64" cy="387.72" r="4.85" fill="#fff" stroke="#0000ff" stroke-width="1.4"/><path d="M487.04 382.90A4.85 4.85 0 1 1 487.04 392.53Z" fill="#0000ff"/>
<circle cx="482.27" cy="393.48" r="4.85" fill="#fff" stroke="#0000ff" stroke-width="1.4"/><path d="M481.67 388.67A4.85 4.85 0 1 1 481.67 398.29Z" fill="#0000ff"/>
<circle cx="476.91" cy="398.81" r="4.85" fill="#fff" stroke="#0000ff" stroke-width="1.4"/><path d="M476.31 394.00A4.85 4.85 0 1 1 476.31 403.62Z" fill="#0000ff"/>
<circle cx="471.55" cy="403.73" r="4.85" fill="#fff" stroke="#0000ff" stroke-width="1.4"/><path d="M470.94 398.91A4.85 4.85 0 1 1 470.94 408.54Z" fill="#0000ff"/>
<circle cx="466.18" cy="408.21" r="4.85" fill="#fff" stroke="#0000ff" stroke-width="1.4"/><path d="M465.58 403.40A4.85 4.85 0 1 1 465.58 413.02Z" fill="#0000ff"/>
<circle cx="460.81" cy="412.24" r="4.85" fill="#fff" stroke="#0000ff" stroke-width="1.4"/><path d="M460.21 407.43A4.85 4.85 0 1 1 460.21 417.06Z" fill="#0000ff"/>
<circle cx="455.45" cy="415.81" r="4.85" fill="#fff" stroke="#0000ff" stroke-width="1.4"/><path d="M454.85 411.00A4.85 4.85 0 1 1 454.85 420.62Z" fill="#0000ff"/>
<circle cx="450.09" cy="418.89" r="4.85" fill="#fff" stroke="#0000ff" stroke-width="1.4"/><path d="M449.49 414.08A4.85 4.85 0 1 1 449.49 423.70Z" fill="#0000ff"/>
<circle cx="444.72" cy="421.55" r="4.85" fill="#fff" stroke="#0000ff" stroke-width="1.4"/><path d="M444.12 416.73A4.85 4.85 0 1 1 444.12 426.36Z" fill="#0000ff"/>
<circle cx="439.36" cy="424.09" r="4.85" fill="#fff" stroke="#0000ff" stroke-width="1.4"/><path d="M438.75 419.28A4.85 4.85 0 1 1 438.75 428.90Z" fill="#0000ff"/>
<circle cx="433.99" cy="426.51" r="4.85" fill="#fff" stroke="#0000ff" stroke-width="1.4"/><path d="M433.39 421.70A4.85 4.85 0 1 1 433.39 431.33Z" fill="#0000ff"/>
<circle cx="428.62" cy="428.77" r="4.85" fill="#fff" stroke="#0000ff" stroke-width="1.4"/><path d="M428.02 423.96A4.85 4.85 0 1 1 428.02 433.58Z" fill="#0000ff"/>
<circle cx="423.26" cy="430.82" r="4.85" fill="#fff" stroke="#0000ff" stroke-width="1.4"/><path d="M422.66 426.01A4.85 4.85 0 1 1 422.66 435.63Z" fill="#0000ff"/>
<circle cx="417.89" cy="432.61" r="4.85" fill="#fff" stroke="#0000ff" stroke-width="1.4"/><path d="M417.29 427.80A4.85 4.85 0 1 1 417.29 437.42Z" fill="#0000ff"/>
<circle cx="412.53" cy="434.10" r="4.85" fill="#fff" stroke="#0000ff" stroke-width="1.4"/><path d="M411.93 429.28A4.85 4.85 0 1 1 411.93 438.91Z" fill="#0000ff"/>
<circle cx="407.17" cy="435.24" r="4.85" fill="#fff" stroke="#0000ff" stroke-width="1.4"/><path d="M406.56 430.42A4.85 4.85 0 1 1 406.56 440.05Z" fill="#0000ff"/>
<circle cx="401.80" cy="435.98" r="4.85" fill="#fff" stroke="#0000ff" stroke-width="1.4"/><path d="M401.20 431.17A4.85 4.85 0 1 1 401.20 440.79Z" fill="#0000ff"/>
<circle cx="616.40" cy="253.00" r="4.85" fill="#fff" stroke="#0000ff" stroke-width="1.4"/><path d="M615.80 248.19A4.85 4.85 0 1 1 615.80 257.81Z" fill="#0000ff"/>
<circle cx="611.03" cy="253.34" r="4.85" fill="#fff" stroke="#0000ff" stroke-width="1.4"/><path d="M610.43 248.53A4.85 4.85 0 1 1 610.43 258.16Z" fill="#0000ff"/>
<circle cx="605.67" cy="254.24" r="4.85" fill="#fff" stroke="#0000ff" stroke-width="1.4"/><path d="M605.07 249.43A4.85 4.85 0 1 1 605.07 259.06Z" fill="#0000ff"/>
<circle cx="600.30" cy="255.55" r="4.85" fill="#fff" stroke="#0000ff" stroke-width="1.4"/><path d="M599.70 250.73A4.85 4.85 0 1 1 599.70 260.36Z" fill="#0000ff"/>
<circle cx="594.94" cy="257.20" r="4.85" fill="#fff" stroke="#0000ff" stroke-width="1.4"/><path d="M594.34 252.39A4.85 4.85 0 1 1 594.34 262.02Z" fill="#0000ff"/>
<circle cx="589.58" cy="260.43" r="4.85" fill="#fff" stroke="#0000ff" stroke-width="1.4"/><path d="M588.98 255.62A4.85 4.85 0 1 1 588.98 265.24Z" fill="#0000ff"/>
<circle cx="584.21" cy="264.88" r="4.85" fill="#fff" stroke="#0000ff" stroke-width="1.4"/><path d="M583.61 260.07A4.85 4.85 0 1 1 583.61 269.69Z" fill="#0000ff"/>
<circle cx="578.85" cy="269.82" r="4.85" fill="#fff" stroke="#0000ff" stroke-width="1.4"/><path d="M578.25 265.01A4.85 4.85 0 1 1 578.25 274.64Z" fill="#0000ff"/>
<circle cx="573.48" cy="275.89" r="4.85" fill="#fff" stroke="#0000ff" stroke-width="1.4"/><path d="M572.88 271.08A4.85 4.85 0 1 1 572.88 280.71Z" fill="#0000ff"/>
<circle cx="568.12" cy="283.29" r="4.85" fill="#fff" stroke="#0000ff" stroke-width="1.4"/><path d="M567.51 278.48A4.85 4.85 0 1 1 567.51 288.10Z" fill="#0000ff"/>
<circle cx="562.75" cy="293.42" r="4.85" fill="#fff" stroke="#0000ff" stroke-width="1.4"/><path d="M562.15 288.61A4.85 4.85 0 1 1 562.15 298.23Z" fill="#0000ff"/>
<circle cx="557.38" cy="305.00" r="4.85" fill="#fff" stroke="#0000ff" stroke-width="1.4"/><path d="M556.78 300.19A4.85 4.85 0 1 1 556.78 309.82Z" fill="#0000ff"/>
<circle cx="552.02" cy="315.13" r="4.85" fill="#fff" stroke="#0000ff" stroke-width="1.4"/><path d="M551.42 310.32A4.85 4.85 0 1 1 551.42 319.94Z" fill="#0000ff"/>
<circle cx="546.65" cy="323.84" r="4.85" fill="#fff" stroke="#0000ff" stroke-width="1.4"/><path d="M546.05 319.02A4.85 4.85 0 1 1 546.05 328.65Z" fill="#0000ff"/>
<circle cx="541.29" cy="331.99" r="4.85" fill="#fff" stroke="#0000ff" stroke-width="1.4"/><path d="M540.69 327.18A4.85 4.85 0 1 1 540.69 336.80Z" fill="#0000ff"/>
<circle cx="535.92" cy="339.95" r="4.85" fill="#fff" stroke="#0000ff" stroke-width="1.4"/><path d="M535.32 335.14A4.85 4.85 0 1 1 535.32 344.77Z" fill="#0000ff"/>
<circle cx="530.56" cy="347.71" r="4.85" fill="#fff" stroke="#0000ff" stroke-width="1.4"/><path d="M529.96 342.90A4.85 4.85 0 1 1 529.96 352.52Z" fill="#0000ff"/>
<circle cx="525.19" cy="355.24" r="4.85" fill="#fff" stroke="#0000ff" stroke-width="1.4"/><path d="M524.59 350.43A4.85 4.85 0 1 1 524.59 360.05Z" fill="#0000ff"/>
<circle cx="519.83" cy="362.55" r="4.85" fill="#fff" stroke="#0000ff" stroke-width="1.4"/><path d="M519.23 357.74A4.85 4.85 0 1 1 519.23 367.37Z" fill="#0000ff"/>
<circle cx="514.47" cy="369.76" r="4.85" fill="#fff" stroke="#0000ff" stroke-width="1.4"/><path d="M513.87 364.95A4.85 4.85 0 1 1 513.87 374.58Z" fill="#0000ff"/>
<circle cx="509.10" cy="377.21" r="4.85" fill="#fff" stroke="#0000ff" stroke-width="1.4"/><path d="M508.50 372.40A4.85 4.85 0 1 1 508.50 382.03Z" fill="#0000ff"/>
<circle cx="503.74" cy="384.64" r="4.85" fill="#fff" stroke="#0000ff" stroke-width="1.4"/><path d="M503.13 379.83A4.85 4.85 0 1 1 503.13 389.46Z" fill="#0000ff"/>
<circle cx="498.37" cy="391.71" r="4.85" fill="#fff" stroke="#0000ff" stroke-width="1.4"/><path d="M497.77 386.90A4.85 4.85 0 1 1 497.77 396.53Z" fill="#0000ff"/>
<circle cx="493.00" cy="398.09" r="4.85" fill="#fff" stroke="#0000ff" stroke-width="1.4"/><path d="M492.40 393.28A4.85 4.85 0 1 1 492.40 402.90Z" fill="#0000ff"/>
<circle cx="487.64" cy="403.43" r="4.85" fill="#fff" stroke="#0000ff" stroke-width="1.4"/><path d="M487.04 398.62A4.85 4.85 0 1 1 487.04 408.24Z" fill="#0000ff"/>
<circle cx="482.27" cy="407.79" r="4.85" fill="#fff" stroke="#0000ff" stroke-width="1.4"/><path d="M481.67 402.97A4.85 4.85 0 1 1 481.67 412.60Z" fill="#0000ff"/>
<circle cx="476.91" cy="411.82" r="4.85" fill="#fff" stroke="#0000ff" stroke-width="1.4"/><path d="M476.31 407.01A4.85 4.85 0 1 1 476.31 416.64Z" fill="#0000ff"/>
<circle cx="471.55" cy="415.55" r="4.85" fill="#fff" stroke="#0000ff" stroke-width="1.4"/><path d="M470.94 410.73A4.85 4.85 0 1 1 470.94 420.36Z" fill="#0000ff"/>
<circle cx="466.18" cy="418.93" r="4.85" fill="#fff" stroke="#0000ff" stroke-width="1.4"/><path d="M465.58 414.12A4.85 4.85 0 1 1 465.58 423.74Z" fill="#0000ff"/>
<circle cx="460.81" cy="421.95" r="4.85" fill="#fff" stroke="#0000ff" stroke-width="1.4"/><path d="M460.21 417.14A4.85 4.85 0 1 1 460.21 426.76Z" fill="#0000ff"/>
<circle cx="455.45" cy="424.59" r="4.85" fill="#fff" stroke="#0000ff" stroke-width="1.4"/><path d="M454.85 419.77A4.85 4.85 0 1 1 454.85 429.40Z" fill="#0000ff"/>
<circle cx="450.09" cy="426.81" r="4.85" fill="#fff" stroke="#0000ff" stroke-width="1.4"/><path d="M449.49 422.00A4.85 4.85 0 1 1 449.49 431.63Z" fill="#0000ff"/>
<circle cx="444.72" cy="428.69" r="4.85" fill="#fff" stroke="#0000ff" stroke-width="1.4"/><path d="M444.12 423.87A4.85 4.85 0 1 1 444.12 433.50Z" fill="#0000ff"/>
<circle cx="439.36" cy="430.48" r="4.85" fill="#fff" stroke="#0000ff" stroke-width="1.4"/><path d="M438.75 425.67A4.85 4.85 0 1 1 438.75 435.29Z" fill="#0000ff"/>
<circle cx="433.99" cy="432.19" r="4.85" fill="#fff" stroke="#0000ff" stroke-width="1.4"/><path d="M433.39 427.38A4.85 4.85 0 1 1 433.39 437.00Z" fill="#0000ff"/>
<circle cx="428.62" cy="433.78" r="4.85" fill="#fff" stroke="#0000ff" stroke-width="1.4"/><path d="M428.02 428.96A4.85 4.85 0 1 1 428.02 438.59Z" fill="#0000ff"/>
<circle cx="423.26" cy="435.20" r="4.85" fill="#fff" stroke="#0000ff" stroke-width="1.4"/><path d="M422.66 430.39A4.85 4.85 0 1 1 422.66 440.02Z" fill="#0000ff"/>
<circle cx="417.89" cy="436.43" r="4.85" fill="#fff" stroke="#0000ff" stroke-width="1.4"/><path d="M417.29 431.61A4.85 4.85 0 1 1 417.29 441.24Z" fill="#0000ff"/>
<circle cx="412.53" cy="437.41" r="4.85" fill="#fff" stroke="#0000ff" stroke-width="1.4"/><path d="M411.93 432.60A4.85 4.85 0 1 1 411.93 442.22Z" fill="#0000ff"/>
<circle cx="407.17" cy="438.11" r="4.85" fill="#fff" stroke="#0000ff" stroke-width="1.4"/><path d="M406.56 433.30A4.85 4.85 0 1 1 406.56 442.92Z" fill="#0000ff"/>
<circle cx="401.80" cy="438.49" r="4.85" fill="#fff" stroke="#0000ff" stroke-width="1.4"/><path d="M401.20 433.68A4.85 4.85 0 1 1 401.20 443.31Z" fill="#0000ff"/>
<rect x="66.30" y="2.40" width="243.90" height="218.20" fill="none" stroke="#404040" stroke-width="1.5"/>
<rect x="387.00" y="4.60" width="246.40" height="212.90" fill="none" stroke="#404040" stroke-width="1.5"/>
<rect x="65.20" y="234.30" width="245.00" height="206.40" fill="none" stroke="#404040" stroke-width="1.5"/>
<rect x="385.80" y="233.10" width="247.50" height="208.90" fill="none" stroke="#404040" stroke-width="1.5"/>
<line x1="59.70" y1="45.60" x2="66.30" y2="45.60" stroke="#404040" stroke-width="1.5"/>
<line x1="59.70" y1="133.30" x2="66.30" y2="133.30" stroke="#404040" stroke-width="1.5"/>
<line x1="59.70" y1="220.60" x2="66.30" y2="220.60" stroke="#404040" stroke-width="1.5"/>
<line x1="380.30" y1="27.80" x2="387.00" y2="27.80" stroke="#404040" stroke-width="1.5"/>
<line x1="380.30" y1="123.20" x2="387.00" y2="123.20" stroke="#404040" stroke-width="1.5"/>
<line x1="380.30" y1="217.50" x2="387.00" y2="217.50" stroke="#404040" stroke-width="1.5"/>
<line x1="59.00" y1="256.50" x2="65.20" y2="256.50" stroke="#404040" stroke-width="1.5"/>
<line x1="59.00" y1="345.10" x2="65.20" y2="345.10" stroke="#404040" stroke-width="1.5"/>
<line x1="59.00" y1="433.60" x2="65.20" y2="433.60" stroke="#404040" stroke-width="1.5"/>
<line x1="380.00" y1="242.30" x2="385.80" y2="242.30" stroke="#404040" stroke-width="1.5"/>
<line x1="380.00" y1="341.80" x2="385.80" y2="341.80" stroke="#404040" stroke-width="1.5"/>
<line x1="380.00" y1="442.00" x2="385.80" y2="442.00" stroke="#404040" stroke-width="1.5"/>
<line x1="76.70" y1="440.70" x2="76.70" y2="446.70" stroke="#404040" stroke-width="1.5"/>
<line x1="131.60" y1="440.70" x2="131.60" y2="446.70" stroke="#404040" stroke-width="1.5"/>
<line x1="186.60" y1="440.70" x2="186.60" y2="446.70" stroke="#404040" stroke-width="1.5"/>
<line x1="241.80" y1="440.70" x2="241.80" y2="446.70" stroke="#404040" stroke-width="1.5"/>
<line x1="296.90" y1="440.70" x2="296.90" y2="446.70" stroke="#404040" stroke-width="1.5"/>
<line x1="401.90" y1="442.00" x2="401.90" y2="448.40" stroke="#404040" stroke-width="1.5"/>
<line x1="455.30" y1="442.00" x2="455.30" y2="448.40" stroke="#404040" stroke-width="1.5"/>
<line x1="508.70" y1="442.00" x2="508.70" y2="448.40" stroke="#404040" stroke-width="1.5"/>
<line x1="562.50" y1="442.00" x2="562.50" y2="448.40" stroke="#404040" stroke-width="1.5"/>
<line x1="615.80" y1="442.00" x2="615.80" y2="448.40" stroke="#404040" stroke-width="1.5"/>
<text x="56.20" y="51.50" font-size="16.5" textLength="33.40" lengthAdjust="spacingAndGlyphs" text-anchor="end" fill="#000" >0.08</text>
<text x="56.20" y="139.20" font-size="16.5" textLength="33.40" lengthAdjust="spacingAndGlyphs" text-anchor="end" fill="#000" >0.04</text>
<text x="56.20" y="226.90" font-size="16.5" textLength="33.40" lengthAdjust="spacingAndGlyphs" text-anchor="end" fill="#000" >0.00</text>
<text x="55.10" y="262.50" font-size="16.5" textLength="33.40" lengthAdjust="spacingAndGlyphs" text-anchor="end" fill="#000" >0.08</text>
<text x="55.10" y="351.00" font-size="16.5" textLength="33.40" lengthAdjust="spacingAndGlyphs" text-anchor="end" fill="#000" >0.04</text>
<text x="55.10" y="439.50" font-size="16.5" textLength="33.40" lengthAdjust="spacingAndGlyphs" text-anchor="end" fill="#000" >0.00</text>
<text x="377.20" y="33.60" font-size="16.5" textLength="33.40" lengthAdjust="spacingAndGlyphs" text-anchor="end" fill="#000" >0.02</text>
<text x="377.20" y="129.10" font-size="16.5" textLength="33.40" lengthAdjust="spacingAndGlyphs" text-anchor="end" fill="#000" >0.01</text>
<text x="377.20" y="223.40" font-size="16.5" textLength="24.20" lengthAdjust="spacingAndGlyphs" text-anchor="end" fill="#000" >0.0</text>
<text x="376.60" y="248.00" font-size="16.5" textLength="33.40" lengthAdjust="spacingAndGlyphs" text-anchor="end" fill="#000" >0.02</text>
<text x="376.60" y="347.70" font-size="16.5" textLength="33.40" lengthAdjust="spacingAndGlyphs" text-anchor="end" fill="#000" >0.01</text>
<text x="376.60" y="447.40" font-size="16.5" textLength="24.20" lengthAdjust="spacingAndGlyphs" text-anchor="end" fill="#000" >0.0</text>
<text x="65.80" y="469.80" font-size="17" textLength="18.60" lengthAdjust="spacingAndGlyphs" fill="#000" >10</text>
<text x="86.40" y="464.20" font-size="16.5" fill="#000" >2</text>
<text x="120.70" y="469.80" font-size="17" textLength="18.60" lengthAdjust="spacingAndGlyphs" fill="#000" >10</text>
<text x="141.30" y="464.20" font-size="16.5" fill="#000" >3</text>
<text x="175.70" y="469.80" font-size="17" textLength="18.60" lengthAdjust="spacingAndGlyphs" fill="#000" >10</text>
<text x="196.30" y="464.20" font-size="16.5" fill="#000" >4</text>
<text x="230.90" y="469.80" font-size="17" textLength="18.60" lengthAdjust="spacingAndGlyphs" fill="#000" >10</text>
<text x="251.50" y="464.20" font-size="16.5" fill="#000" >5</text>
<text x="286.00" y="469.80" font-size="17" textLength="18.60" lengthAdjust="spacingAndGlyphs" fill="#000" >10</text>
<text x="306.60" y="464.20" font-size="16.5" fill="#000" >6</text>
<text x="392.30" y="468.80" font-size="17" textLength="18.60" lengthAdjust="spacingAndGlyphs" fill="#000" >10</text>
<text x="412.90" y="463.20" font-size="16.5" fill="#000" >2</text>
<text x="445.70" y="468.80" font-size="17" textLength="18.60" lengthAdjust="spacingAndGlyphs" fill="#000" >10</text>
<text x="466.30" y="463.20" font-size="16.5" fill="#000" >3</text>
<text x="499.10" y="468.80" font-size="17" textLength="18.60" lengthAdjust="spacingAndGlyphs" fill="#000" >10</text>
<text x="519.70" y="463.20" font-size="16.5" fill="#000" >4</text>
<text x="552.90" y="468.80" font-size="17" textLength="18.60" lengthAdjust="spacingAndGlyphs" fill="#000" >10</text>
<text x="573.50" y="463.20" font-size="16.5" fill="#000" >5</text>
<text x="606.60" y="468.80" font-size="17" textLength="18.60" lengthAdjust="spacingAndGlyphs" fill="#000" >10</text>
<text x="627.20" y="463.20" font-size="16.5" fill="#000" >6</text>
<text x="125.40" y="491.30" font-size="15.3" font-weight="bold" textLength="119.30" lengthAdjust="spacingAndGlyphs" fill="#000" >Frequency (Hz)</text>
<text x="450.90" y="490.30" font-size="15.3" font-weight="bold" textLength="119.40" lengthAdjust="spacingAndGlyphs" fill="#000" >Frequency (Hz)</text>
<text x="16.00" y="139.80" font-size="17.5" font-weight="bold" textLength="108.50" lengthAdjust="spacingAndGlyphs" transform="rotate(-90 16.00 139.80)" fill="#000" >Modulus (M’)</text>
<text x="15.00" y="385.70" font-size="17.5" font-weight="bold" textLength="105.50" lengthAdjust="spacingAndGlyphs" transform="rotate(-90 15.00 385.70)" fill="#000" >Modulus (M’)</text>
<text x="338.10" y="182.30" font-size="17.5" font-weight="bold" textLength="114.50" lengthAdjust="spacingAndGlyphs" transform="rotate(-90 338.10 182.30)" fill="#000" >Modulus (M’’ )</text>
<text x="339.10" y="400.30" font-size="17.5" font-weight="bold" textLength="114.50" lengthAdjust="spacingAndGlyphs" transform="rotate(-90 339.10 400.30)" fill="#000" >Modulus (M’’ )</text>
<text x="71.40" y="18.90" font-size="19.3" font-weight="bold" textLength="13.60" lengthAdjust="spacingAndGlyphs" fill="#000" >A</text>
<text x="112.30" y="20.40" font-size="16.5" font-weight="bold" textLength="18.50" lengthAdjust="spacingAndGlyphs" fill="#000" >BF</text>
<text x="391.90" y="22.40" font-size="19.3" font-weight="bold" textLength="11.60" lengthAdjust="spacingAndGlyphs" fill="#000" >B</text>
<text x="422.60" y="22.70" font-size="16.5" font-weight="bold" textLength="19.20" lengthAdjust="spacingAndGlyphs" fill="#000" >BF</text>
<text x="73.00" y="252.10" font-size="19.3" font-weight="bold" textLength="13.20" lengthAdjust="spacingAndGlyphs" fill="#000" >C</text>
<text x="73.80" y="278.90" font-size="16.5" font-weight="bold" textLength="41.00" lengthAdjust="spacingAndGlyphs" fill="#000" >BFCN</text>
<text x="391.00" y="274.40" font-size="19.3" font-weight="bold" textLength="13.70" lengthAdjust="spacingAndGlyphs" fill="#000" >D</text>
<text x="391.80" y="301.60" font-size="16.5" font-weight="bold" textLength="40.30" lengthAdjust="spacingAndGlyphs" fill="#000" >BFCN</text>
<line x1="481.80" y1="109.30" x2="481.80" y2="185.00" stroke="#404040" stroke-width="1.5"/>
<line x1="481.80" y1="185.00" x2="605.20" y2="185.00" stroke="#404040" stroke-width="1.5"/>
<line x1="605.20" y1="167.80" x2="605.20" y2="185.00" stroke="#404040" stroke-width="1.5"/>
<line x1="477.80" y1="128.10" x2="481.80" y2="128.10" stroke="#404040" stroke-width="1.5"/>
<line x1="477.80" y1="164.60" x2="481.80" y2="164.60" stroke="#404040" stroke-width="1.5"/>
<line x1="497.30" y1="185.00" x2="497.30" y2="188.80" stroke="#404040" stroke-width="1.5"/>
<line x1="544.00" y1="185.00" x2="544.00" y2="188.80" stroke="#404040" stroke-width="1.5"/>
<line x1="590.40" y1="185.00" x2="590.40" y2="188.80" stroke="#404040" stroke-width="1.5"/>
<line x1="481.80" y1="115.20" x2="605.20" y2="179.00" stroke="#ff0000" stroke-width="1.2"/>
<circle cx="494.00" cy="121.50" r="4.85" fill="#fff" stroke="#ff0000" stroke-width="1.4"/><path d="M493.40 116.69A4.85 4.85 0 1 1 493.40 126.31Z" fill="#ff0000"/>
<circle cx="518.00" cy="133.20" r="4.85" fill="#fff" stroke="#ff0000" stroke-width="1.4"/><path d="M517.40 128.39A4.85 4.85 0 1 1 517.40 138.01Z" fill="#ff0000"/>
<circle cx="558.30" cy="154.50" r="4.85" fill="#fff" stroke="#ff0000" stroke-width="1.4"/><path d="M557.70 149.69A4.85 4.85 0 1 1 557.70 159.31Z" fill="#ff0000"/>
<circle cx="590.00" cy="171.00" r="4.85" fill="#fff" stroke="#ff0000" stroke-width="1.4"/><path d="M589.40 166.19A4.85 4.85 0 1 1 589.40 175.81Z" fill="#ff0000"/>
<text x="455.47" y="134.45" font-size="14.84" textLength="20.49" lengthAdjust="spacingAndGlyphs" fill="#000" >4.0</text>
<text x="455.24" y="169.65" font-size="14.7" textLength="20.76" lengthAdjust="spacingAndGlyphs" fill="#000" >3.5</text>
<text x="448.70" y="170.94" font-size="15.3" textLength="39.21" lengthAdjust="spacingAndGlyphs" transform="rotate(-90 448.70 170.94)" fill="#000" >log (f)</text>
<text x="478.80" y="202.57" font-size="13.0" textLength="38.24" lengthAdjust="spacingAndGlyphs" fill="#000" >0.0027</text>
<text x="524.80" y="202.57" font-size="13.0" textLength="38.49" lengthAdjust="spacingAndGlyphs" fill="#000" >0.0030</text>
<text x="571.12" y="202.57" font-size="13.0" textLength="36.91" lengthAdjust="spacingAndGlyphs" fill="#000" >0.0033</text>
<text x="512.22" y="177.80" font-size="17.31" textLength="10.27" lengthAdjust="spacingAndGlyphs" fill="#000" >T</text>
<text x="523.22" y="171.12" font-size="15.48" textLength="5.77" lengthAdjust="spacingAndGlyphs" fill="#000" >-</text>
<text x="529.78" y="170.70" font-size="15.27" textLength="9.77" lengthAdjust="spacingAndGlyphs" fill="#000" >1</text>
<text x="541.83" y="177.61" font-size="16.84" textLength="3.55" lengthAdjust="spacingAndGlyphs" fill="#000" >(</text>
<text x="546.98" y="177.80" font-size="15.85" textLength="9.90" lengthAdjust="spacingAndGlyphs" fill="#000" >K</text>
<text x="558.00" y="177.61" font-size="16.84" textLength="4.31" lengthAdjust="spacingAndGlyphs" fill="#000" >)</text>
<rect x="552" y="415" width="131" height="21" fill="#fff"/>
<rect x="558.5" y="331.8" width="119.9" height="83.5" fill="#fff" stroke="#404040" stroke-width="1.5"/>
<line x1="554.50" y1="352.50" x2="558.50" y2="352.50" stroke="#404040" stroke-width="1.5"/>
<line x1="554.50" y1="414.70" x2="558.50" y2="414.70" stroke="#404040" stroke-width="1.5"/>
<line x1="574.70" y1="415.30" x2="574.70" y2="419.90" stroke="#404040" stroke-width="1.5"/>
<line x1="619.00" y1="415.30" x2="619.00" y2="419.90" stroke="#404040" stroke-width="1.5"/>
<line x1="664.00" y1="415.30" x2="664.00" y2="419.90" stroke="#404040" stroke-width="1.5"/>
<line x1="558.50" y1="339.00" x2="678.40" y2="397.10" stroke="#0000ff" stroke-width="1.2"/>
<circle cx="570.60" cy="344.60" r="4.85" fill="#fff" stroke="#0000ff" stroke-width="1.4"/><path d="M570.00 339.79A4.85 4.85 0 1 1 570.00 349.41Z" fill="#0000ff"/>
<circle cx="593.50" cy="356.10" r="4.85" fill="#fff" stroke="#0000ff" stroke-width="1.4"/><path d="M592.90 351.29A4.85 4.85 0 1 1 592.90 360.91Z" fill="#0000ff"/>
<circle cx="632.50" cy="374.70" r="4.85" fill="#fff" stroke="#0000ff" stroke-width="1.4"/><path d="M631.90 369.89A4.85 4.85 0 1 1 631.90 379.51Z" fill="#0000ff"/>
<circle cx="663.90" cy="389.90" r="4.85" fill="#fff" stroke="#0000ff" stroke-width="1.4"/><path d="M663.30 385.09A4.85 4.85 0 1 1 663.30 394.71Z" fill="#0000ff"/>
<text x="543.67" y="357.46" font-size="13.99" textLength="9.26" lengthAdjust="spacingAndGlyphs" fill="#000" >6</text>
<text x="543.92" y="420.06" font-size="14.42" textLength="8.55" lengthAdjust="spacingAndGlyphs" fill="#000" >3</text>
<text x="544.30" y="403.76" font-size="15.3" textLength="40.27" lengthAdjust="spacingAndGlyphs" transform="rotate(-90 544.30 403.76)" fill="#000" >log (f)</text>
<text x="553.79" y="432.57" font-size="13.43" textLength="38.65" lengthAdjust="spacingAndGlyphs" fill="#000" >0.0027</text>
<text x="598.39" y="432.57" font-size="13.43" textLength="38.90" lengthAdjust="spacingAndGlyphs" fill="#000" >0.0030</text>
<text x="643.20" y="432.57" font-size="13.43" textLength="38.56" lengthAdjust="spacingAndGlyphs" fill="#000" >0.0033</text>
<text x="594.82" y="408.50" font-size="16.87" textLength="10.27" lengthAdjust="spacingAndGlyphs" fill="#000" >T</text>
<text x="606.39" y="402.52" font-size="15.48" textLength="5.22" lengthAdjust="spacingAndGlyphs" fill="#000" >-</text>
<text x="612.47" y="401.60" font-size="15.85" textLength="9.13" lengthAdjust="spacingAndGlyphs" fill="#000" >1</text>
<text x="624.41" y="408.42" font-size="17.27" textLength="3.68" lengthAdjust="spacingAndGlyphs" fill="#000" >(</text>
<text x="629.58" y="408.70" font-size="16.58" textLength="9.90" lengthAdjust="spacingAndGlyphs" fill="#000" >K</text>
<text x="641.10" y="408.42" font-size="17.27" textLength="4.31" lengthAdjust="spacingAndGlyphs" fill="#000" >)</text>
<rect x="148.7" y="184.8" width="68.6" height="121.3" fill="#fff" stroke="#404040" stroke-width="1.5"/>
<text x="164.13" y="204.70" font-size="17.02" textLength="10.16" lengthAdjust="spacingAndGlyphs" fill="#000" >T</text>
<text x="178.35" y="204.67" font-size="17.48" textLength="5.07" lengthAdjust="spacingAndGlyphs" fill="#000" >(</text>
<text x="184.70" y="196.16" font-size="13.88" textLength="9.18" lengthAdjust="spacingAndGlyphs" fill="#000" >o</text>
<text x="194.19" y="204.83" font-size="17.24" textLength="11.65" lengthAdjust="spacingAndGlyphs" fill="#000" >C</text>
<text x="207.60" y="204.67" font-size="17.48" textLength="4.57" lengthAdjust="spacingAndGlyphs" fill="#000" >)</text>
<text x="167.29" y="226.85" font-size="15.41" textLength="18.16" lengthAdjust="spacingAndGlyphs" fill="#000" >30</text>
<text x="167.25" y="249.05" font-size="15.27" textLength="18.21" lengthAdjust="spacingAndGlyphs" fill="#000" >50</text>
<text x="166.97" y="271.45" font-size="15.27" textLength="19.22" lengthAdjust="spacingAndGlyphs" fill="#000" >80</text>
<text x="166.20" y="293.95" font-size="15.27" textLength="28.86" lengthAdjust="spacingAndGlyphs" fill="#000" >100</text>
<line x1="157.40" y1="221.00" x2="157.40" y2="273.50" stroke="#006400" stroke-width="2.3"/>
<path d="M152.7 272.3L162.1 272.3L157.4 281Z" fill="#006400"/>
<rect x="393.9" y="206.9" width="109.6" height="48.6" fill="#fff" stroke="#404040" stroke-width="1.5"/>
<text x="396.81" y="221.24" font-size="15.55" textLength="17.41" lengthAdjust="spacingAndGlyphs" fill="#000" >30</text>
<text x="420.85" y="221.24" font-size="15.55" textLength="17.99" lengthAdjust="spacingAndGlyphs" fill="#000" >50</text>
<text x="445.71" y="221.24" font-size="15.55" textLength="18.14" lengthAdjust="spacingAndGlyphs" fill="#000" >80</text>
<text x="470.70" y="221.24" font-size="15.55" textLength="28.86" lengthAdjust="spacingAndGlyphs" fill="#000" >100</text>
<line x1="413.10" y1="229.60" x2="466.00" y2="229.60" stroke="#006400" stroke-width="2.2"/>
<path d="M465 225.3L474.2 229.6L465 233.9Z" fill="#006400"/>
<text x="416.01" y="249.90" font-size="16.0" textLength="7.89" lengthAdjust="spacingAndGlyphs" fill="#000" >T</text>
<text x="429.62" y="249.41" font-size="16.84" textLength="5.20" lengthAdjust="spacingAndGlyphs" fill="#000" >(</text>
<text x="436.75" y="241.37" font-size="12.79" textLength="7.18" lengthAdjust="spacingAndGlyphs" fill="#000" >o</text>
<text x="443.59" y="250.14" font-size="16.4" textLength="14.62" lengthAdjust="spacingAndGlyphs" fill="#000" >C</text>
<text x="458.60" y="249.41" font-size="16.84" textLength="4.44" lengthAdjust="spacingAndGlyphs" fill="#000" >)</text>
</svg></body></html>
